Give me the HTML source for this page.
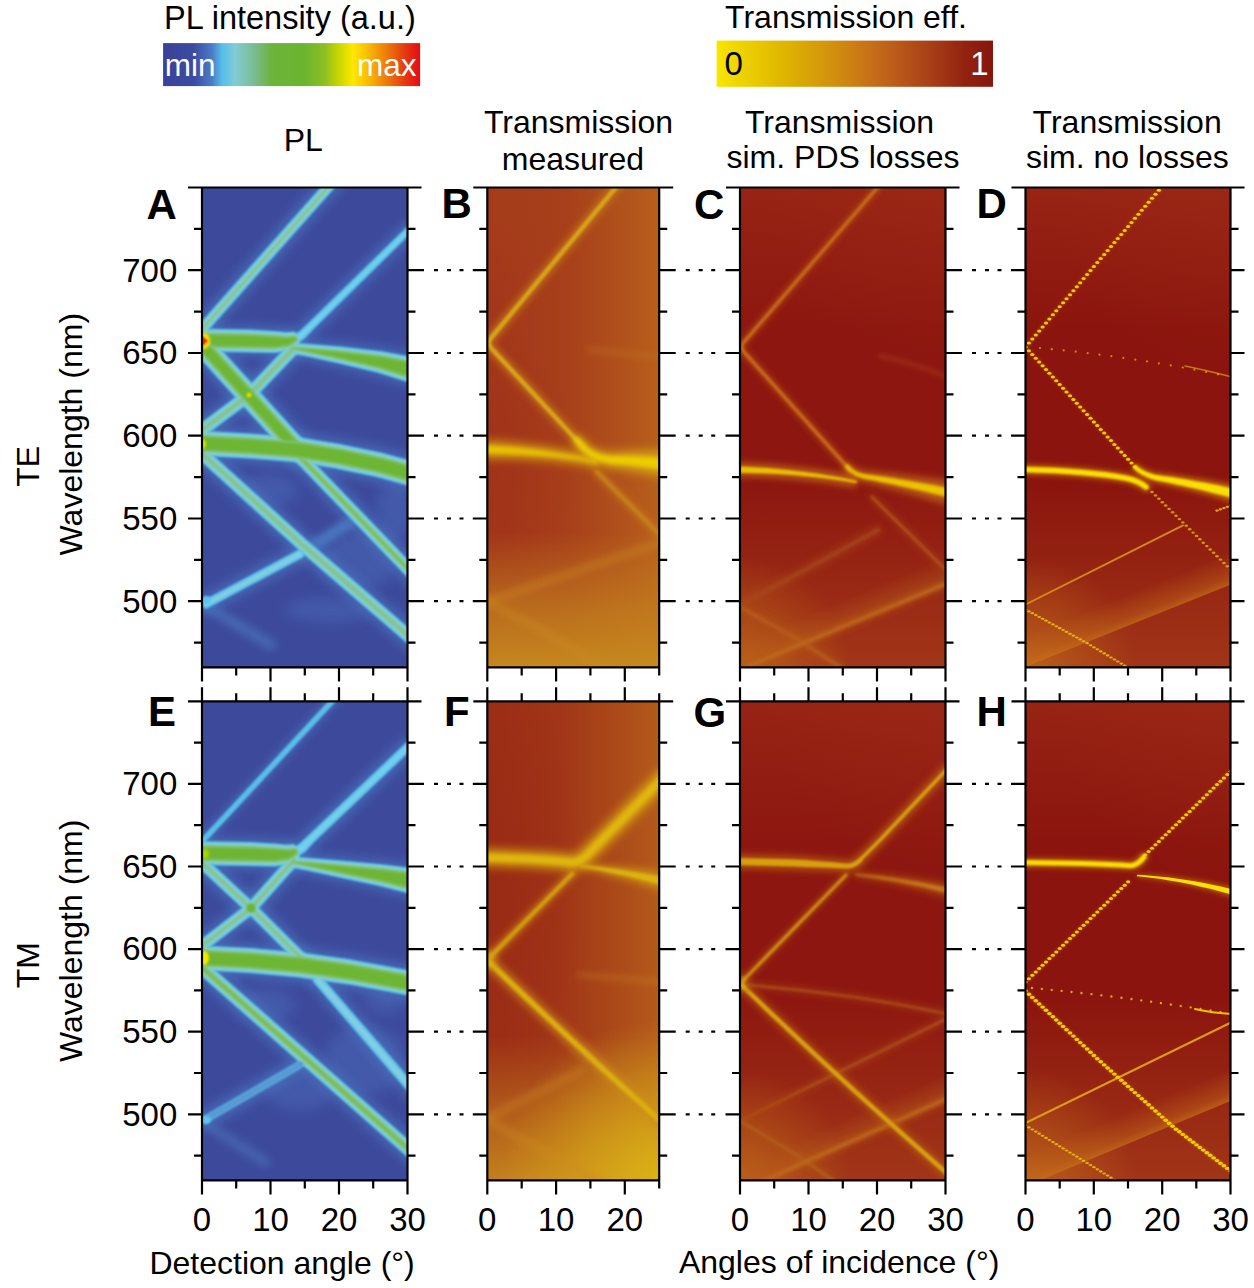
<!DOCTYPE html>
<html><head><meta charset="utf-8"><style>
html,body{margin:0;padding:0;background:#fff;}
body{width:1254px;height:1288px;overflow:hidden;}
svg{display:block;}
</style></head><body>
<svg width="1254" height="1288" viewBox="0 0 1254 1288" font-family='"Liberation Sans", sans-serif' fill="#000">
<defs>
<linearGradient id="cbPL" x1="0" x2="1" y1="0" y2="0"><stop offset="0" stop-color="#3b4097"/><stop offset="0.12" stop-color="#3d4ba3"/><stop offset="0.19" stop-color="#4a7cc6"/><stop offset="0.23" stop-color="#55bfeb"/><stop offset="0.28" stop-color="#82cbd6"/><stop offset="0.36" stop-color="#78bb8c"/><stop offset="0.42" stop-color="#6cb43c"/><stop offset="0.55" stop-color="#6ab42e"/><stop offset="0.63" stop-color="#8fbf22"/><stop offset="0.68" stop-color="#c6d500"/><stop offset="0.74" stop-color="#ffe800"/><stop offset="0.8" stop-color="#f9b800"/><stop offset="0.87" stop-color="#ee7a0a"/><stop offset="0.94" stop-color="#e53a12"/><stop offset="1" stop-color="#e30a16"/></linearGradient>
<linearGradient id="cbT" x1="0" x2="1" y1="0" y2="0"><stop offset="0" stop-color="#f8e600"/><stop offset="0.08" stop-color="#f0d400"/><stop offset="0.25" stop-color="#deb400"/><stop offset="0.42" stop-color="#d2900e"/><stop offset="0.58" stop-color="#c46a1a"/><stop offset="0.75" stop-color="#ac4418"/><stop offset="0.9" stop-color="#92220f"/><stop offset="1" stop-color="#86160e"/></linearGradient>
<clipPath id="clipA0"><rect x="202.0" y="187.5" width="205.5" height="479.9"/></clipPath>
<filter id="bl6" x="0" y="0" width="1254" height="1288" filterUnits="userSpaceOnUse"><feGaussianBlur stdDeviation="6"/></filter>
<filter id="bl3_5" x="0" y="0" width="1254" height="1288" filterUnits="userSpaceOnUse"><feGaussianBlur stdDeviation="3.5"/></filter>
<filter id="bl3" x="0" y="0" width="1254" height="1288" filterUnits="userSpaceOnUse"><feGaussianBlur stdDeviation="3"/></filter>
<filter id="bl4" x="0" y="0" width="1254" height="1288" filterUnits="userSpaceOnUse"><feGaussianBlur stdDeviation="4"/></filter>
<filter id="bl1_1" x="0" y="0" width="1254" height="1288" filterUnits="userSpaceOnUse"><feGaussianBlur stdDeviation="1.1"/></filter>
<filter id="bl1" x="0" y="0" width="1254" height="1288" filterUnits="userSpaceOnUse"><feGaussianBlur stdDeviation="1.0"/></filter>
<filter id="bl1_2" x="0" y="0" width="1254" height="1288" filterUnits="userSpaceOnUse"><feGaussianBlur stdDeviation="1.2"/></filter>
<filter id="bl1_5" x="0" y="0" width="1254" height="1288" filterUnits="userSpaceOnUse"><feGaussianBlur stdDeviation="1.5"/></filter>
<filter id="bl1_3" x="0" y="0" width="1254" height="1288" filterUnits="userSpaceOnUse"><feGaussianBlur stdDeviation="1.3"/></filter>
<filter id="bl1_6" x="0" y="0" width="1254" height="1288" filterUnits="userSpaceOnUse"><feGaussianBlur stdDeviation="1.6"/></filter>
<filter id="bl0_8" x="0" y="0" width="1254" height="1288" filterUnits="userSpaceOnUse"><feGaussianBlur stdDeviation="0.8"/></filter>
<clipPath id="clipB0"><rect x="487.3" y="187.5" width="171.90000000000003" height="479.9"/></clipPath>
<linearGradient id="gBh0" gradientUnits="userSpaceOnUse" x1="487.3" y1="0" x2="659.2" y2="0"><stop offset="0" stop-color="#b65c1c" stop-opacity="0"/><stop offset="0.45" stop-color="#b65c1c" stop-opacity="0.25"/><stop offset="1" stop-color="#ba641c" stop-opacity="0.9"/></linearGradient>
<linearGradient id="gBv0" gradientUnits="userSpaceOnUse" x1="0" y1="187.5" x2="0" y2="667.4"><stop offset="0" stop-color="#c4821e" stop-opacity="0"/><stop offset="0.72" stop-color="#c4821e" stop-opacity="0.0"/><stop offset="0.88" stop-color="#c4821e" stop-opacity="0.7"/><stop offset="1" stop-color="#c88c1e" stop-opacity="0.95"/></linearGradient>
<radialGradient id="gBd0" gradientUnits="userSpaceOnUse" cx="487.3" cy="470" r="90" gradientTransform="translate(487.3 470) scale(1 1.6) translate(-487.3 -470)"><stop offset="0" stop-color="#a03018" stop-opacity="0.6"/><stop offset="1" stop-color="#a03018" stop-opacity="0"/></radialGradient>
<radialGradient id="gBc0" gradientUnits="userSpaceOnUse" cx="497.3" cy="207.5" r="90"><stop offset="0" stop-color="#a8401a" stop-opacity="0.6"/><stop offset="1" stop-color="#a8401a" stop-opacity="0"/></radialGradient>
<filter id="bl2" x="0" y="0" width="1254" height="1288" filterUnits="userSpaceOnUse"><feGaussianBlur stdDeviation="2"/></filter>
<filter id="bl4_2" x="0" y="0" width="1254" height="1288" filterUnits="userSpaceOnUse"><feGaussianBlur stdDeviation="4.2"/></filter>
<clipPath id="clipC0"><rect x="740.0" y="187.5" width="205.5" height="479.9"/></clipPath>
<linearGradient id="gCt0" gradientUnits="userSpaceOnUse" x1="0" y1="187.5" x2="0" y2="667.4"><stop offset="0" stop-color="#982414" stop-opacity="1"/><stop offset="0.1" stop-color="#982414" stop-opacity="0.6"/><stop offset="0.3" stop-color="#982414" stop-opacity="0"/><stop offset="1" stop-color="#982414" stop-opacity="0"/></linearGradient>
<radialGradient id="gCr0" gradientUnits="userSpaceOnUse" cx="945.5" cy="187.5" r="180"><stop offset="0" stop-color="#a03018" stop-opacity="0.3"/><stop offset="1" stop-color="#a03018" stop-opacity="0"/></radialGradient>
<linearGradient id="gCb0" gradientUnits="userSpaceOnUse" x1="0" y1="187.5" x2="0" y2="667.4"><stop offset="0" stop-color="#a8401a" stop-opacity="0"/><stop offset="0.62" stop-color="#a8401a" stop-opacity="0"/><stop offset="1" stop-color="#a8401a" stop-opacity="0.75"/></linearGradient>
<radialGradient id="gCl0" gradientUnits="userSpaceOnUse" cx="740.0" cy="667.4" r="110"><stop offset="0" stop-color="#c06a1a" stop-opacity="0.8"/><stop offset="1" stop-color="#c06a1a" stop-opacity="0"/></radialGradient>
<linearGradient id="egC" gradientUnits="userSpaceOnUse" x1="841.0" y1="628.0" x2="831.0461131090552" y2="603.9808381544593"><stop offset="0" stop-color="#b8601a" stop-opacity="0.7"/><stop offset="0.25" stop-color="#b8601a" stop-opacity="0.385"/><stop offset="1" stop-color="#b8601a" stop-opacity="0"/></linearGradient>
<filter id="bl2_8" x="0" y="0" width="1254" height="1288" filterUnits="userSpaceOnUse"><feGaussianBlur stdDeviation="2.8"/></filter>
<filter id="bl3_2" x="0" y="0" width="1254" height="1288" filterUnits="userSpaceOnUse"><feGaussianBlur stdDeviation="3.2"/></filter>
<filter id="bl3_8" x="0" y="0" width="1254" height="1288" filterUnits="userSpaceOnUse"><feGaussianBlur stdDeviation="3.8"/></filter>
<filter id="bl1_4" x="0" y="0" width="1254" height="1288" filterUnits="userSpaceOnUse"><feGaussianBlur stdDeviation="1.4"/></filter>
<clipPath id="clipD0"><rect x="1025.5" y="187.5" width="205.0" height="479.9"/></clipPath>
<linearGradient id="gDt0" gradientUnits="userSpaceOnUse" x1="0" y1="187.5" x2="0" y2="667.4"><stop offset="0" stop-color="#982414" stop-opacity="1"/><stop offset="0.1" stop-color="#982414" stop-opacity="0.6"/><stop offset="0.3" stop-color="#982414" stop-opacity="0"/><stop offset="1" stop-color="#982414" stop-opacity="0"/></linearGradient>
<radialGradient id="gDr0" gradientUnits="userSpaceOnUse" cx="1230.5" cy="187.5" r="180"><stop offset="0" stop-color="#a03018" stop-opacity="0.3"/><stop offset="1" stop-color="#a03018" stop-opacity="0"/></radialGradient>
<linearGradient id="gDb0" gradientUnits="userSpaceOnUse" x1="0" y1="187.5" x2="0" y2="667.4"><stop offset="0" stop-color="#a8401a" stop-opacity="0"/><stop offset="0.62" stop-color="#a8401a" stop-opacity="0"/><stop offset="1" stop-color="#a8401a" stop-opacity="0.75"/></linearGradient>
<radialGradient id="gDl0" gradientUnits="userSpaceOnUse" cx="1025.5" cy="667.4" r="110"><stop offset="0" stop-color="#c06a1a" stop-opacity="0.8"/><stop offset="1" stop-color="#c06a1a" stop-opacity="0"/></radialGradient>
<linearGradient id="egD" gradientUnits="userSpaceOnUse" x1="1120.0" y1="629.0" x2="1108.8582797093768" y2="601.1456992734422"><stop offset="0" stop-color="#c87018" stop-opacity="0.7"/><stop offset="0.25" stop-color="#c87018" stop-opacity="0.385"/><stop offset="1" stop-color="#c87018" stop-opacity="0"/></linearGradient>
<filter id="bl0_5" x="0" y="0" width="1254" height="1288" filterUnits="userSpaceOnUse"><feGaussianBlur stdDeviation="0.5"/></filter>
<filter id="bl0_45" x="0" y="0" width="1254" height="1288" filterUnits="userSpaceOnUse"><feGaussianBlur stdDeviation="0.45"/></filter>
<filter id="bl0_35" x="0" y="0" width="1254" height="1288" filterUnits="userSpaceOnUse"><feGaussianBlur stdDeviation="0.35"/></filter>
<filter id="bl2_5" x="0" y="0" width="1254" height="1288" filterUnits="userSpaceOnUse"><feGaussianBlur stdDeviation="2.5"/></filter>
<filter id="bl0_9" x="0" y="0" width="1254" height="1288" filterUnits="userSpaceOnUse"><feGaussianBlur stdDeviation="0.9"/></filter>
<clipPath id="clipA1"><rect x="202.0" y="701.3" width="205.5" height="479.10000000000014"/></clipPath>
<clipPath id="clipB1"><rect x="487.3" y="701.3" width="171.90000000000003" height="479.10000000000014"/></clipPath>
<linearGradient id="gBh1" gradientUnits="userSpaceOnUse" x1="487.3" y1="0" x2="659.2" y2="0"><stop offset="0" stop-color="#b65c1c" stop-opacity="0"/><stop offset="0.4" stop-color="#b65c1c" stop-opacity="0.15"/><stop offset="1" stop-color="#b8621c" stop-opacity="0.85"/></linearGradient>
<linearGradient id="gBv1" gradientUnits="userSpaceOnUse" x1="0" y1="701.3" x2="0" y2="1180.4"><stop offset="0" stop-color="#c4821e" stop-opacity="0"/><stop offset="0.7" stop-color="#c4821e" stop-opacity="0.0"/><stop offset="0.88" stop-color="#c4821e" stop-opacity="0.6"/><stop offset="1" stop-color="#c88a1e" stop-opacity="0.9"/></linearGradient>
<radialGradient id="gBd1" gradientUnits="userSpaceOnUse" cx="487.3" cy="880" r="100" gradientTransform="translate(487.3 880) scale(1 2.2) translate(-487.3 -880)"><stop offset="0" stop-color="#982814" stop-opacity="0.7"/><stop offset="1" stop-color="#982814" stop-opacity="0"/></radialGradient>
<radialGradient id="gBc1" gradientUnits="userSpaceOnUse" cx="659.2" cy="1180.4" r="160"><stop offset="0" stop-color="#dcb414" stop-opacity="0.95"/><stop offset="1" stop-color="#dcb414" stop-opacity="0"/></radialGradient>
<filter id="bl1_8" x="0" y="0" width="1254" height="1288" filterUnits="userSpaceOnUse"><feGaussianBlur stdDeviation="1.8"/></filter>
<filter id="bl2_2" x="0" y="0" width="1254" height="1288" filterUnits="userSpaceOnUse"><feGaussianBlur stdDeviation="2.2"/></filter>
<clipPath id="clipC1"><rect x="740.0" y="701.3" width="205.5" height="479.10000000000014"/></clipPath>
<linearGradient id="gCt1" gradientUnits="userSpaceOnUse" x1="0" y1="701.3" x2="0" y2="1180.4"><stop offset="0" stop-color="#982414" stop-opacity="1"/><stop offset="0.1" stop-color="#982414" stop-opacity="0.6"/><stop offset="0.3" stop-color="#982414" stop-opacity="0"/><stop offset="1" stop-color="#982414" stop-opacity="0"/></linearGradient>
<radialGradient id="gCr1" gradientUnits="userSpaceOnUse" cx="945.5" cy="701.3" r="180"><stop offset="0" stop-color="#a03018" stop-opacity="0.3"/><stop offset="1" stop-color="#a03018" stop-opacity="0"/></radialGradient>
<linearGradient id="gCb1" gradientUnits="userSpaceOnUse" x1="0" y1="701.3" x2="0" y2="1180.4"><stop offset="0" stop-color="#a8401a" stop-opacity="0"/><stop offset="0.62" stop-color="#a8401a" stop-opacity="0"/><stop offset="1" stop-color="#a8401a" stop-opacity="0.75"/></linearGradient>
<radialGradient id="gCl1" gradientUnits="userSpaceOnUse" cx="740.0" cy="1180.4" r="110"><stop offset="0" stop-color="#c06a1a" stop-opacity="0.8"/><stop offset="1" stop-color="#c06a1a" stop-opacity="0"/></radialGradient>
<linearGradient id="egG" gradientUnits="userSpaceOnUse" x1="850.0" y1="1142.5" x2="840.2227793453311" y2="1120.581835015907"><stop offset="0" stop-color="#b8601a" stop-opacity="0.65"/><stop offset="0.25" stop-color="#b8601a" stop-opacity="0.35750000000000004"/><stop offset="1" stop-color="#b8601a" stop-opacity="0"/></linearGradient>
<clipPath id="clipD1"><rect x="1025.5" y="701.3" width="205.0" height="479.10000000000014"/></clipPath>
<linearGradient id="gDt1" gradientUnits="userSpaceOnUse" x1="0" y1="701.3" x2="0" y2="1180.4"><stop offset="0" stop-color="#982414" stop-opacity="1"/><stop offset="0.1" stop-color="#982414" stop-opacity="0.6"/><stop offset="0.3" stop-color="#982414" stop-opacity="0"/><stop offset="1" stop-color="#982414" stop-opacity="0"/></linearGradient>
<radialGradient id="gDr1" gradientUnits="userSpaceOnUse" cx="1230.5" cy="701.3" r="180"><stop offset="0" stop-color="#a03018" stop-opacity="0.3"/><stop offset="1" stop-color="#a03018" stop-opacity="0"/></radialGradient>
<linearGradient id="gDb1" gradientUnits="userSpaceOnUse" x1="0" y1="701.3" x2="0" y2="1180.4"><stop offset="0" stop-color="#a8401a" stop-opacity="0"/><stop offset="0.62" stop-color="#a8401a" stop-opacity="0"/><stop offset="1" stop-color="#a8401a" stop-opacity="0.75"/></linearGradient>
<radialGradient id="gDl1" gradientUnits="userSpaceOnUse" cx="1025.5" cy="1180.4" r="110"><stop offset="0" stop-color="#c06a1a" stop-opacity="0.8"/><stop offset="1" stop-color="#c06a1a" stop-opacity="0"/></radialGradient>
<linearGradient id="egH" gradientUnits="userSpaceOnUse" x1="1120.0" y1="1147.0" x2="1108.4615384615386" y2="1119.3076923076924"><stop offset="0" stop-color="#c87018" stop-opacity="0.7"/><stop offset="0.25" stop-color="#c87018" stop-opacity="0.385"/><stop offset="1" stop-color="#c87018" stop-opacity="0"/></linearGradient>
<filter id="bl0_7" x="0" y="0" width="1254" height="1288" filterUnits="userSpaceOnUse"><feGaussianBlur stdDeviation="0.7"/></filter>
</defs>
<g clip-path="url(#clipA0)"><rect x="202.0" y="187.5" width="205.5" height="479.9" fill="#3d4a9c"/><g fill="#4864b4" fill-opacity="0.55" filter="url(#bl6)"><ellipse cx="360" cy="560" rx="40" ry="28"/><ellipse cx="395" cy="510" rx="18" ry="30"/><ellipse cx="270" cy="490" rx="28" ry="16"/><ellipse cx="330" cy="610" rx="45" ry="12"/></g><path d="M206,606 L271,645" fill="none" stroke="#4a78c0" stroke-width="11" stroke-linecap="round" stroke-linejoin="round" stroke-opacity="0.6" filter="url(#bl3_5)"/><path d="M300,554 L357,518" fill="none" stroke="#4a80c6" stroke-width="12" stroke-linecap="round" stroke-linejoin="round" stroke-opacity="0.8" filter="url(#bl3)"/><path d="M206,604 L300,554" fill="none" stroke="#4a70bc" stroke-width="21" stroke-linecap="round" stroke-linejoin="round" stroke-opacity="0.6" filter="url(#bl4)"/><path d="M196,336 L338,176" fill="none" stroke="#4a70bc" stroke-width="23" stroke-linecap="round" stroke-linejoin="round" stroke-opacity="0.6" filter="url(#bl4)"/><path d="M198,450 L305,547 L412,639" fill="none" stroke="#4a70bc" stroke-width="25" stroke-linecap="round" stroke-linejoin="round" stroke-opacity="0.6" filter="url(#bl4)"/><path d="M300,457 L412,573" fill="none" stroke="#4a70bc" stroke-width="25" stroke-linecap="round" stroke-linejoin="round" stroke-opacity="0.6" filter="url(#bl4)"/><path d="M198,433 L249,395 L292,350" fill="none" stroke="#4a70bc" stroke-width="25" stroke-linecap="round" stroke-linejoin="round" stroke-opacity="0.6" filter="url(#bl4)"/><path d="M281.0,354.0 L295.5,352.0 L308.6,343.2 L319.0,332.1 L418.8,234.0 L405.2,220.0 L305.0,317.9 L295.4,326.8 L288.5,330.0 L279.0,330.0Z" fill="#4a70bc" fill-opacity="0.6" filter="url(#bl4)"/><path d="M195.7,356.5 L249.6,357.5 L274.8,358.0 L290.6,355.8 L301.3,349.2 L292.7,326.8 L285.4,327.2 L275.2,326.0 L250.4,324.5 L196.3,323.5Z" fill="#4a70bc" fill-opacity="0.6" filter="url(#bl4)"/><path d="M290.6,358.4 L308.3,362.0 L337.8,368.3 L376.7,377.6 L407.6,387.5 L416.4,352.5 L383.3,346.4 L342.2,341.7 L311.7,339.0 L293.4,337.6Z" fill="#4a70bc" fill-opacity="0.6" filter="url(#bl4)"/><path d="M196,338 L248,395 L296,448" fill="none" stroke="#4a70bc" stroke-width="34" stroke-linecap="round" stroke-linejoin="round" stroke-opacity="0.6" filter="url(#bl4)"/><path d="M196,443 L250,446 L300,450 L340,456.7 L380,465 L412,474" fill="none" stroke="#4a70bc" stroke-width="37" stroke-linecap="round" stroke-linejoin="round" stroke-opacity="0.6" filter="url(#bl4)"/><path d="M206,604 L300,554" fill="none" stroke="#5cc6ee" stroke-width="9" stroke-linecap="round" stroke-linejoin="round" filter="url(#bl1_1)"/><path d="M196,336 L338,176" fill="none" stroke="#5cc6ee" stroke-width="11" stroke-linecap="round" stroke-linejoin="round" filter="url(#bl1_1)"/><path d="M198,450 L305,547 L412,639" fill="none" stroke="#5cc6ee" stroke-width="13" stroke-linecap="round" stroke-linejoin="round" filter="url(#bl1_1)"/><path d="M300,457 L412,573" fill="none" stroke="#5cc6ee" stroke-width="13" stroke-linecap="round" stroke-linejoin="round" filter="url(#bl1_1)"/><path d="M198,433 L249,395 L292,350" fill="none" stroke="#5cc6ee" stroke-width="13" stroke-linecap="round" stroke-linejoin="round" filter="url(#bl1_1)"/><path d="M280.5,348.0 L293.7,346.2 L304.8,338.5 L314.8,327.9 L414.6,229.7 L409.4,224.3 L309.2,322.1 L299.2,331.5 L290.3,335.8 L279.5,336.0Z" fill="#5cc6ee" filter="url(#bl1_1)"/><path d="M195.8,351.5 L249.7,352.5 L274.9,353.0 L289.7,350.8 L299.5,344.5 L294.5,331.5 L286.3,332.2 L275.1,331.0 L250.3,329.5 L196.2,328.5Z" fill="#5cc6ee" filter="url(#bl1_1)"/><path d="M291.2,353.4 L309.0,357.0 L338.6,363.4 L377.8,372.7 L408.8,382.6 L415.2,357.4 L382.2,351.3 L341.4,346.6 L311.0,344.0 L292.8,342.6Z" fill="#5cc6ee" filter="url(#bl1_1)"/><path d="M196,338 L248,395 L296,448" fill="none" stroke="#5cc6ee" stroke-width="22" stroke-linecap="round" stroke-linejoin="round" filter="url(#bl1_1)"/><path d="M196,443 L250,446 L300,450 L340,456.7 L380,465 L412,474" fill="none" stroke="#5cc6ee" stroke-width="25" stroke-linecap="round" stroke-linejoin="round" filter="url(#bl1_1)"/><path d="M206,604 L300,554" fill="none" stroke="#86cde0" stroke-width="4" stroke-linecap="round" stroke-linejoin="round" filter="url(#bl1)"/><path d="M196,336 L338,176" fill="none" stroke="#8dcfc6" stroke-width="7" stroke-linecap="round" stroke-linejoin="round" filter="url(#bl1)"/><path d="M198,450 L305,547 L412,639" fill="none" stroke="#8dcfc6" stroke-width="9" stroke-linecap="round" stroke-linejoin="round" filter="url(#bl1)"/><path d="M300,457 L412,573" fill="none" stroke="#8dcfc6" stroke-width="9" stroke-linecap="round" stroke-linejoin="round" filter="url(#bl1_1)"/><path d="M198,433 L249,395 L292,350" fill="none" stroke="#8dcfc6" stroke-width="9" stroke-linecap="round" stroke-linejoin="round" filter="url(#bl1)"/><path d="M280.3,345.5 L292.9,343.9 L303.2,336.6 L313.1,326.1 L412.9,227.9 L411.1,226.1 L310.9,323.9 L300.8,333.4 L291.1,338.1 L279.7,338.5Z" fill="#78d0ea" filter="url(#bl1_1)"/><path d="M195.8,349.5 L249.8,350.5 L274.9,351.0 L289.3,348.9 L298.8,342.7 L295.2,333.3 L286.7,334.1 L275.1,333.0 L250.2,331.5 L196.2,330.5Z" fill="#8dcfc6" filter="url(#bl1_2)"/><path d="M291.5,351.5 L309.3,355.1 L338.9,361.4 L378.2,370.8 L409.3,380.7 L414.7,359.3 L381.8,353.2 L341.1,348.6 L310.7,345.9 L292.5,344.5Z" fill="#8dcfc6" filter="url(#bl1_2)"/><path d="M196,338 L248,395 L296,448" fill="none" stroke="#8dcfc6" stroke-width="18" stroke-linecap="round" stroke-linejoin="round" filter="url(#bl1_2)"/><path d="M196,443 L250,446 L300,450 L340,456.7 L380,465 L412,474" fill="none" stroke="#8dcfc6" stroke-width="21" stroke-linecap="round" stroke-linejoin="round" filter="url(#bl1_2)"/><path d="M196,336 L338,176" fill="none" stroke="#80c49a" stroke-width="3" stroke-linecap="round" stroke-linejoin="round" filter="url(#bl1_2)"/><path d="M198,450 L305,547 L412,639" fill="none" stroke="#80c49a" stroke-width="5" stroke-linecap="round" stroke-linejoin="round" filter="url(#bl1_2)"/><path d="M300,457 L412,573" fill="none" stroke="#78bc56" stroke-width="4" stroke-linecap="round" stroke-linejoin="round" filter="url(#bl1_5)"/><path d="M198,433 L249,395 L292,350" fill="none" stroke="#80c49a" stroke-width="5" stroke-linecap="round" stroke-linejoin="round" filter="url(#bl1_2)"/><path d="M195.9,347.5 L249.8,348.5 L274.9,349.0 L289.0,346.9 L298.1,340.8 L295.9,335.2 L287.0,336.1 L275.1,335.0 L250.2,333.5 L196.1,332.5Z" fill="#80c488" filter="url(#bl1_3)"/><path d="M195.9,345.5 L249.9,346.5 L274.9,347.0 L288.6,344.9 L297.4,338.9 L296.6,337.1 L287.4,338.1 L275.1,337.0 L250.1,335.5 L196.1,334.5Z" fill="#6db532" filter="url(#bl1_6)"/><path d="M291.8,349.5 L309.6,353.1 L339.3,359.4 L378.6,368.8 L409.8,378.7 L414.2,361.3 L381.4,355.2 L340.7,350.6 L310.4,347.9 L292.2,346.5Z" fill="#80c488" filter="url(#bl1_3)"/><path d="M292.0,348.2 L309.8,351.7 L339.5,357.8 L378.9,367.0 L410.3,376.8 L413.7,363.2 L381.1,357.0 L340.5,352.2 L310.2,349.3 L292.0,347.8Z" fill="#6db532" filter="url(#bl1_6)"/><path d="M196,338 L248,395 L296,448" fill="none" stroke="#80c488" stroke-width="14" stroke-linecap="round" stroke-linejoin="round" filter="url(#bl1_3)"/><path d="M196,338 L248,395 L296,448" fill="none" stroke="#6db532" stroke-width="10" stroke-linecap="round" stroke-linejoin="round" filter="url(#bl1_6)"/><path d="M196,443 L250,446 L300,450 L340,456.7 L380,465 L412,474" fill="none" stroke="#80c488" stroke-width="17" stroke-linecap="round" stroke-linejoin="round" filter="url(#bl1_3)"/><path d="M196,443 L250,446 L300,450 L340,456.7 L380,465 L412,474" fill="none" stroke="#6db532" stroke-width="13" stroke-linecap="round" stroke-linejoin="round" filter="url(#bl1_6)"/><ellipse cx="204" cy="341" rx="6" ry="8" fill="#ffe400" filter="url(#bl1_5)"/><path d="M201,335 L208,341 L201,347Z" fill="#e41a1c" filter="url(#bl0_8)"/><circle cx="249" cy="395" r="2.5" fill="#e0e000" filter="url(#bl0_8)"/><ellipse cx="203" cy="444" rx="3" ry="5" fill="#d8e000" filter="url(#bl1)"/><ellipse cx="206" cy="600" rx="5" ry="4" fill="#5cc6ee" filter="url(#bl1_2)"/></g>
<g clip-path="url(#clipB0)"><rect x="487.3" y="187.5" width="171.90000000000003" height="479.9" fill="#a2361a"/><rect x="487.3" y="187.5" width="171.90000000000003" height="479.9" fill="url(#gBh0)"/><rect x="487.3" y="187.5" width="171.90000000000003" height="479.9" fill="url(#gBd0)"/><rect x="487.3" y="187.5" width="171.90000000000003" height="479.9" fill="url(#gBv0)"/><rect x="487.3" y="187.5" width="171.90000000000003" height="479.9" fill="url(#gBc0)"/><path d="M487,602 L662,542" fill="none" stroke="#cc8a22" stroke-width="8" stroke-linecap="round" stroke-linejoin="round" stroke-opacity="0.45" filter="url(#bl3_5)"/><path d="M487,602 L545,632 L610,670" fill="none" stroke="#cc8a22" stroke-width="8" stroke-linecap="round" stroke-linejoin="round" stroke-opacity="0.45" filter="url(#bl3_5)"/><path d="M590,350 L662,357" fill="none" stroke="#c07020" stroke-width="6" stroke-linecap="round" stroke-linejoin="round" stroke-opacity="0.4" filter="url(#bl3)"/><path d="M597,472 L662,537" fill="none" stroke="#c8801a" stroke-width="10" stroke-linecap="round" stroke-linejoin="round" stroke-opacity="0.45" filter="url(#bl3)"/><path d="M597,472 L662,537" fill="none" stroke="#c8801c" stroke-width="4" stroke-linecap="round" stroke-linejoin="round" filter="url(#bl1_5)"/><path d="M483.7,459.5 L493.7,459.5 L503.6,459.6 L513.4,459.8 L523.1,460.1 L532.7,460.6 L542.1,461.3 L551.5,462.0 L560.8,462.9 L569.9,464.0 L579.0,465.1 L587.9,466.4 L596.8,467.9 L599.2,456.1 L590.3,454.0 L581.2,452.1 L572.1,450.2 L562.8,448.5 L553.4,446.9 L543.9,445.5 L534.2,444.2 L524.5,443.0 L514.6,441.9 L504.6,441.0 L494.5,440.2 L484.3,439.5Z" fill="#d8a814" fill-opacity="0.7" filter="url(#bl4)"/><path d="M483.9,453.7 L494.0,453.8 L503.9,454.0 L513.8,454.4 L523.5,454.8 L533.2,455.4 L542.7,456.2 L552.1,457.1 L561.4,458.1 L570.7,459.2 L579.8,460.5 L588.8,461.9 L597.7,463.5 L598.3,460.5 L589.4,458.5 L580.4,456.7 L571.3,455.0 L562.1,453.4 L552.8,451.9 L543.3,450.6 L533.7,449.3 L524.0,448.3 L514.2,447.3 L504.3,446.5 L494.3,445.8 L484.1,445.3Z" fill="#e8c400" filter="url(#bl2)"/><path d="M622,180 L491,338 Q487,343 491,348 L584,448" fill="none" stroke="#c8801a" stroke-width="11" stroke-linecap="round" stroke-linejoin="round" stroke-opacity="0.6" filter="url(#bl3)"/><path d="M622,180 L491,338 Q487,343 491,348 L584,448" fill="none" stroke="#d8a414" stroke-width="4.5" stroke-linecap="round" stroke-linejoin="round" filter="url(#bl1_3)"/><path d="M571.3,441.3 L579.4,452.2 L581.5,454.5 L583.5,456.4 L585.7,458.3 L588.0,460.0 L590.4,461.5 L593.0,463.0 L595.7,464.3 L598.5,465.5 L601.5,466.6 L604.5,467.5 L607.7,468.4 L611.3,469.1 L616.2,469.7 L620.7,470.4 L625.2,471.0 L629.5,471.7 L633.9,472.4 L638.1,473.1 L642.3,473.9 L646.4,474.6 L650.5,475.4 L654.5,476.2 L658.4,477.0 L662.3,477.9 L665.7,450.1 L661.5,450.0 L657.3,449.9 L653.0,449.8 L648.7,449.8 L644.3,449.8 L639.9,449.9 L635.4,450.0 L630.9,450.1 L626.3,450.2 L621.7,450.4 L617.0,450.6 L612.7,450.9 L610.4,450.8 L607.9,450.7 L605.5,450.4 L603.2,450.0 L601.1,449.6 L599.0,449.0 L597.0,448.4 L595.1,447.6 L593.3,446.7 L591.6,445.8 L590.0,444.7 L588.6,443.8 L578.7,434.7Z" fill="#dcae12" fill-opacity="0.7" filter="url(#bl4_2)"/><path d="M573.3,439.5 L582.0,449.9 L583.8,451.8 L585.8,453.5 L587.8,455.0 L590.0,456.5 L592.3,457.8 L594.7,459.1 L597.2,460.2 L599.9,461.2 L602.6,462.0 L605.5,462.8 L608.5,463.4 L611.7,464.0 L616.5,464.3 L621.0,464.7 L625.5,465.1 L629.9,465.6 L634.3,466.0 L638.6,466.5 L642.9,467.0 L647.1,467.6 L651.2,468.1 L655.3,468.7 L659.3,469.3 L663.3,470.0 L664.7,458.0 L660.6,457.7 L656.5,457.4 L652.3,457.1 L648.0,456.9 L643.7,456.7 L639.4,456.5 L635.0,456.3 L630.5,456.2 L626.0,456.1 L621.4,456.1 L616.8,456.0 L612.3,456.0 L609.6,455.8 L607.0,455.4 L604.4,455.0 L601.9,454.4 L599.6,453.7 L597.3,452.9 L595.2,452.0 L593.1,451.1 L591.2,450.0 L589.4,448.8 L587.6,447.5 L586.0,446.1 L576.7,436.5Z" fill="#ecce00" filter="url(#bl2)"/></g>
<g clip-path="url(#clipC0)"><rect x="740.0" y="187.5" width="205.5" height="479.9" fill="#8d1710"/><rect x="740.0" y="187.5" width="205.5" height="479.9" fill="url(#gCt0)"/><rect x="740.0" y="187.5" width="205.5" height="479.9" fill="url(#gCr0)"/><rect x="740.0" y="187.5" width="205.5" height="479.9" fill="url(#gCb0)"/><rect x="740.0" y="187.5" width="205.5" height="479.9" fill="url(#gCl0)"/><path d="M880,356 Q910,362 948,377" fill="none" stroke="#a83c18" stroke-width="5" stroke-linecap="round" stroke-linejoin="round" stroke-opacity="0.45" filter="url(#bl2)"/><path d="M740,607 L797,639 L840,667" fill="none" stroke="#b05018" stroke-width="10" stroke-linecap="round" stroke-linejoin="round" stroke-opacity="0.5" filter="url(#bl3_5)"/><path d="M740,607 L797,639 L840,667" fill="none" stroke="#b85a1a" stroke-width="3.5" stroke-linecap="round" stroke-linejoin="round" filter="url(#bl1_6)"/><path d="M744,603 L878,530" fill="none" stroke="#a84418" stroke-width="10" stroke-linecap="round" stroke-linejoin="round" stroke-opacity="0.45" filter="url(#bl3_5)"/><path d="M744,603 L878,530" fill="none" stroke="#a84418" stroke-width="3.5" stroke-linecap="round" stroke-linejoin="round" stroke-opacity="0.85" filter="url(#bl1_6)"/><path d="M730.0,674.0 L952.0,582.0 L942.0,558.0 L720.0,650.0Z" fill="url(#egC)"/><path d="M730,674 L952,582" fill="none" stroke="#b85a1a" stroke-width="8" stroke-linecap="round" stroke-linejoin="round" stroke-opacity="0.5" filter="url(#bl3)"/><path d="M730,674 L952,582" fill="none" stroke="#c06a1a" stroke-width="3.5" stroke-linecap="round" stroke-linejoin="round" stroke-opacity="0.8" filter="url(#bl1_6)"/><path d="M872,497 L948,572" fill="none" stroke="#a84418" stroke-width="8" stroke-linecap="round" stroke-linejoin="round" stroke-opacity="0.5" filter="url(#bl3)"/><path d="M872,497 L948,572" fill="none" stroke="#b04c18" stroke-width="3" stroke-linecap="round" stroke-linejoin="round" filter="url(#bl1_2)"/><path d="M884,180 L744,342 Q740,347 744,352 L850,470" fill="none" stroke="#b04a18" stroke-width="9" stroke-linecap="round" stroke-linejoin="round" stroke-opacity="0.55" filter="url(#bl2_8)"/><path d="M884,180 L744,342 Q740,347 744,352 L850,470" fill="none" stroke="#c86818" stroke-width="3.5" stroke-linecap="round" stroke-linejoin="round" filter="url(#bl1)"/><path d="M735.8,476.5 L746.4,476.7 L756.8,477.1 L767.1,477.6 L777.4,478.2 L787.5,478.9 L797.6,479.8 L807.5,480.8 L817.4,482.0 L827.2,483.3 L836.8,484.7 L846.4,486.2 L855.9,487.9 L858.1,476.1 L848.5,474.2 L838.8,472.5 L829.0,470.9 L819.0,469.5 L809.0,468.1 L798.9,466.9 L788.7,465.9 L778.4,464.9 L768.0,464.1 L757.5,463.4 L746.9,462.9 L736.2,462.5Z" fill="#c87018" fill-opacity="0.7" filter="url(#bl3_2)"/><path d="M735.9,472.7 L746.5,472.9 L757.0,473.2 L767.4,473.6 L777.7,474.1 L787.9,474.8 L798.0,475.6 L808.0,476.5 L818.0,477.6 L827.8,478.8 L837.6,480.1 L847.2,481.6 L856.8,483.2 L857.2,480.8 L847.7,478.8 L838.1,477.0 L828.3,475.4 L818.5,473.8 L808.5,472.4 L798.5,471.2 L788.3,470.0 L778.1,469.0 L767.7,468.1 L757.3,467.4 L746.7,466.7 L736.1,466.3Z" fill="#e8c000" filter="url(#bl1_3)"/><path d="M842.8,467.4 L844.0,469.2 L845.5,471.1 L847.0,472.8 L848.8,474.4 L850.7,475.9 L852.7,477.3 L854.8,478.5 L857.0,479.6 L859.4,480.6 L861.9,481.5 L864.5,482.2 L867.1,482.8 L873.2,484.3 L879.4,485.8 L885.7,487.4 L892.1,489.1 L898.7,490.8 L905.3,492.6 L912.1,494.5 L918.9,496.4 L925.9,498.4 L932.9,500.4 L940.1,502.5 L947.4,504.7 L952.6,481.3 L945.0,480.2 L937.5,479.1 L930.1,478.1 L922.9,477.2 L915.7,476.2 L908.7,475.4 L901.8,474.6 L895.0,473.8 L888.3,473.1 L881.7,472.4 L875.3,471.8 L868.9,471.2 L866.6,471.0 L864.5,470.7 L862.6,470.4 L860.7,469.9 L859.0,469.4 L857.3,468.7 L855.8,468.0 L854.3,467.1 L853.0,466.2 L851.7,465.1 L850.4,464.0 L849.2,462.6Z" fill="#cc7818" fill-opacity="0.65" filter="url(#bl3_8)"/><path d="M844.6,466.1 L845.8,467.8 L847.2,469.4 L848.7,470.9 L850.4,472.3 L852.1,473.6 L854.0,474.8 L856.0,475.9 L858.1,476.8 L860.3,477.7 L862.7,478.4 L865.1,479.0 L867.6,479.4 L873.8,480.6 L880.1,481.9 L886.5,483.2 L893.0,484.6 L899.6,486.0 L906.3,487.5 L913.2,489.0 L920.1,490.6 L927.2,492.3 L934.3,494.0 L941.6,495.8 L949.0,497.6 L951.0,488.4 L943.5,486.9 L936.1,485.5 L928.8,484.2 L921.7,482.9 L914.6,481.7 L907.7,480.5 L900.8,479.4 L894.1,478.3 L887.5,477.3 L881.0,476.3 L874.7,475.4 L868.4,474.6 L866.0,474.3 L863.8,473.9 L861.7,473.3 L859.7,472.7 L857.8,472.0 L856.0,471.2 L854.3,470.2 L852.7,469.2 L851.3,468.1 L849.9,466.8 L848.6,465.5 L847.4,463.9Z" fill="#ecc400" filter="url(#bl1_4)"/></g>
<g clip-path="url(#clipD0)"><rect x="1025.5" y="187.5" width="205.0" height="479.9" fill="#8b150e"/><rect x="1025.5" y="187.5" width="205.0" height="479.9" fill="url(#gDt0)"/><rect x="1025.5" y="187.5" width="205.0" height="479.9" fill="url(#gDr0)"/><rect x="1025.5" y="187.5" width="205.0" height="479.9" fill="url(#gDb0)"/><rect x="1025.5" y="187.5" width="205.0" height="479.9" fill="url(#gDl0)"/><path d="M1000.0,677.0 L1240.0,581.0 L1228.9,553.1 L988.9,649.1Z" fill="url(#egD)"/><path d="M1025.5,604.5 L1183,525.4" fill="none" stroke="#d88a14" stroke-width="1.8" stroke-linecap="round" stroke-linejoin="round" filter="url(#bl0_5)"/><g fill="#e8b010" fill-opacity="1" filter="url(#bl0_45)"><ellipse cx="1025.5" cy="609.5" rx="1.9" ry="1.1"/><ellipse cx="1028.9" cy="611.4" rx="1.9" ry="1.1"/><ellipse cx="1032.3" cy="613.2" rx="1.9" ry="1.1"/><ellipse cx="1035.8" cy="615.1" rx="1.9" ry="1.1"/><ellipse cx="1039.2" cy="617.0" rx="1.9" ry="1.1"/><ellipse cx="1042.6" cy="618.8" rx="1.9" ry="1.1"/><ellipse cx="1046.0" cy="620.7" rx="1.9" ry="1.1"/><ellipse cx="1049.4" cy="622.6" rx="1.9" ry="1.1"/><ellipse cx="1052.9" cy="624.4" rx="1.9" ry="1.1"/><ellipse cx="1056.3" cy="626.3" rx="1.9" ry="1.1"/><ellipse cx="1059.7" cy="628.2" rx="1.9" ry="1.1"/><ellipse cx="1063.1" cy="630.0" rx="1.9" ry="1.1"/><ellipse cx="1066.5" cy="631.9" rx="1.9" ry="1.1"/><ellipse cx="1070.0" cy="633.8" rx="1.9" ry="1.1"/><ellipse cx="1073.4" cy="635.7" rx="1.9" ry="1.1"/><ellipse cx="1076.8" cy="637.5" rx="1.9" ry="1.1"/><ellipse cx="1080.2" cy="639.4" rx="1.9" ry="1.1"/><ellipse cx="1083.6" cy="641.3" rx="1.9" ry="1.1"/><ellipse cx="1087.1" cy="643.2" rx="1.9" ry="1.1"/><ellipse cx="1090.5" cy="645.3" rx="1.9" ry="1.1"/><ellipse cx="1093.9" cy="647.3" rx="1.9" ry="1.1"/><ellipse cx="1097.3" cy="649.3" rx="1.9" ry="1.1"/><ellipse cx="1100.7" cy="651.4" rx="1.9" ry="1.1"/><ellipse cx="1104.2" cy="653.4" rx="1.9" ry="1.1"/><ellipse cx="1107.6" cy="655.4" rx="1.9" ry="1.1"/><ellipse cx="1111.0" cy="657.5" rx="1.9" ry="1.1"/><ellipse cx="1114.4" cy="659.5" rx="1.9" ry="1.1"/><ellipse cx="1117.8" cy="661.5" rx="1.9" ry="1.1"/><ellipse cx="1121.3" cy="663.6" rx="1.9" ry="1.1"/><ellipse cx="1124.7" cy="665.6" rx="1.9" ry="1.1"/></g><path d="M1040,348 Q1130,356 1232,377" fill="none" stroke="#e8b000" stroke-width="2.2" stroke-linecap="round" stroke-linejoin="round" stroke-opacity="0.75" stroke-dasharray="0.01 12" filter="url(#bl0_35)"/><path d="M1185,366 Q1205,370 1232,377" fill="none" stroke="#e0a010" stroke-width="1.6" stroke-linecap="round" stroke-linejoin="round" stroke-opacity="0.7" filter="url(#bl0_5)"/><g fill="#e8b010" fill-opacity="1" filter="url(#bl0_45)"><ellipse cx="1217.0" cy="510.6" rx="1.8" ry="1.1"/><ellipse cx="1220.4" cy="509.3" rx="1.8" ry="1.1"/><ellipse cx="1223.9" cy="508.1" rx="1.8" ry="1.1"/><ellipse cx="1227.3" cy="506.8" rx="1.8" ry="1.1"/><ellipse cx="1230.7" cy="505.5" rx="1.8" ry="1.1"/></g><g fill="#d89010" fill-opacity="0.45" filter="url(#bl1_5)"><ellipse cx="1025.5" cy="347.0" rx="2.1" ry="1.5"/><ellipse cx="1028.9" cy="343.0" rx="2.1" ry="1.5"/><ellipse cx="1032.3" cy="339.0" rx="2.1" ry="1.5"/><ellipse cx="1035.8" cy="334.9" rx="2.1" ry="1.5"/><ellipse cx="1039.2" cy="330.9" rx="2.1" ry="1.5"/><ellipse cx="1042.6" cy="326.9" rx="2.1" ry="1.5"/><ellipse cx="1046.0" cy="322.9" rx="2.1" ry="1.5"/><ellipse cx="1049.4" cy="318.9" rx="2.1" ry="1.5"/><ellipse cx="1052.9" cy="314.8" rx="2.1" ry="1.5"/><ellipse cx="1056.3" cy="310.8" rx="2.1" ry="1.5"/><ellipse cx="1059.7" cy="306.8" rx="2.1" ry="1.5"/><ellipse cx="1063.1" cy="302.8" rx="2.1" ry="1.5"/><ellipse cx="1066.5" cy="298.8" rx="2.1" ry="1.5"/><ellipse cx="1070.0" cy="294.7" rx="2.1" ry="1.5"/><ellipse cx="1073.4" cy="290.7" rx="2.1" ry="1.5"/><ellipse cx="1076.8" cy="286.7" rx="2.1" ry="1.5"/><ellipse cx="1080.2" cy="282.7" rx="2.1" ry="1.5"/><ellipse cx="1083.6" cy="278.6" rx="2.1" ry="1.5"/><ellipse cx="1087.1" cy="274.6" rx="2.1" ry="1.5"/><ellipse cx="1090.5" cy="270.6" rx="2.1" ry="1.5"/><ellipse cx="1093.9" cy="266.6" rx="2.1" ry="1.5"/><ellipse cx="1097.3" cy="262.6" rx="2.1" ry="1.5"/><ellipse cx="1100.7" cy="258.5" rx="2.1" ry="1.5"/><ellipse cx="1104.2" cy="254.5" rx="2.1" ry="1.5"/><ellipse cx="1107.6" cy="250.5" rx="2.1" ry="1.5"/><ellipse cx="1111.0" cy="246.5" rx="2.1" ry="1.5"/><ellipse cx="1114.4" cy="242.5" rx="2.1" ry="1.5"/><ellipse cx="1117.8" cy="238.4" rx="2.1" ry="1.5"/><ellipse cx="1121.3" cy="234.4" rx="2.1" ry="1.5"/><ellipse cx="1124.7" cy="230.4" rx="2.1" ry="1.5"/><ellipse cx="1128.1" cy="226.4" rx="2.1" ry="1.5"/><ellipse cx="1131.5" cy="222.4" rx="2.1" ry="1.5"/><ellipse cx="1134.9" cy="218.3" rx="2.1" ry="1.5"/><ellipse cx="1138.4" cy="214.3" rx="2.1" ry="1.5"/><ellipse cx="1141.8" cy="210.3" rx="2.1" ry="1.5"/><ellipse cx="1145.2" cy="206.3" rx="2.1" ry="1.5"/><ellipse cx="1148.6" cy="202.3" rx="2.1" ry="1.5"/><ellipse cx="1152.0" cy="198.2" rx="2.1" ry="1.5"/><ellipse cx="1155.5" cy="194.2" rx="2.1" ry="1.5"/><ellipse cx="1158.9" cy="190.2" rx="2.1" ry="1.5"/><ellipse cx="1162.3" cy="186.2" rx="2.1" ry="1.5"/></g><g fill="#f4cc00" fill-opacity="1" filter="url(#bl0_45)"><ellipse cx="1025.5" cy="347.0" rx="2.1" ry="1.5"/><ellipse cx="1028.9" cy="343.0" rx="2.1" ry="1.5"/><ellipse cx="1032.3" cy="339.0" rx="2.1" ry="1.5"/><ellipse cx="1035.8" cy="334.9" rx="2.1" ry="1.5"/><ellipse cx="1039.2" cy="330.9" rx="2.1" ry="1.5"/><ellipse cx="1042.6" cy="326.9" rx="2.1" ry="1.5"/><ellipse cx="1046.0" cy="322.9" rx="2.1" ry="1.5"/><ellipse cx="1049.4" cy="318.9" rx="2.1" ry="1.5"/><ellipse cx="1052.9" cy="314.8" rx="2.1" ry="1.5"/><ellipse cx="1056.3" cy="310.8" rx="2.1" ry="1.5"/><ellipse cx="1059.7" cy="306.8" rx="2.1" ry="1.5"/><ellipse cx="1063.1" cy="302.8" rx="2.1" ry="1.5"/><ellipse cx="1066.5" cy="298.8" rx="2.1" ry="1.5"/><ellipse cx="1070.0" cy="294.7" rx="2.1" ry="1.5"/><ellipse cx="1073.4" cy="290.7" rx="2.1" ry="1.5"/><ellipse cx="1076.8" cy="286.7" rx="2.1" ry="1.5"/><ellipse cx="1080.2" cy="282.7" rx="2.1" ry="1.5"/><ellipse cx="1083.6" cy="278.6" rx="2.1" ry="1.5"/><ellipse cx="1087.1" cy="274.6" rx="2.1" ry="1.5"/><ellipse cx="1090.5" cy="270.6" rx="2.1" ry="1.5"/><ellipse cx="1093.9" cy="266.6" rx="2.1" ry="1.5"/><ellipse cx="1097.3" cy="262.6" rx="2.1" ry="1.5"/><ellipse cx="1100.7" cy="258.5" rx="2.1" ry="1.5"/><ellipse cx="1104.2" cy="254.5" rx="2.1" ry="1.5"/><ellipse cx="1107.6" cy="250.5" rx="2.1" ry="1.5"/><ellipse cx="1111.0" cy="246.5" rx="2.1" ry="1.5"/><ellipse cx="1114.4" cy="242.5" rx="2.1" ry="1.5"/><ellipse cx="1117.8" cy="238.4" rx="2.1" ry="1.5"/><ellipse cx="1121.3" cy="234.4" rx="2.1" ry="1.5"/><ellipse cx="1124.7" cy="230.4" rx="2.1" ry="1.5"/><ellipse cx="1128.1" cy="226.4" rx="2.1" ry="1.5"/><ellipse cx="1131.5" cy="222.4" rx="2.1" ry="1.5"/><ellipse cx="1134.9" cy="218.3" rx="2.1" ry="1.5"/><ellipse cx="1138.4" cy="214.3" rx="2.1" ry="1.5"/><ellipse cx="1141.8" cy="210.3" rx="2.1" ry="1.5"/><ellipse cx="1145.2" cy="206.3" rx="2.1" ry="1.5"/><ellipse cx="1148.6" cy="202.3" rx="2.1" ry="1.5"/><ellipse cx="1152.0" cy="198.2" rx="2.1" ry="1.5"/><ellipse cx="1155.5" cy="194.2" rx="2.1" ry="1.5"/><ellipse cx="1158.9" cy="190.2" rx="2.1" ry="1.5"/><ellipse cx="1162.3" cy="186.2" rx="2.1" ry="1.5"/></g><g fill="#d89010" fill-opacity="0.45" filter="url(#bl1_5)"><ellipse cx="1025.5" cy="347.0" rx="2.1" ry="1.5"/><ellipse cx="1028.9" cy="350.7" rx="2.1" ry="1.5"/><ellipse cx="1032.3" cy="354.5" rx="2.1" ry="1.5"/><ellipse cx="1035.8" cy="358.2" rx="2.1" ry="1.5"/><ellipse cx="1039.2" cy="362.0" rx="2.1" ry="1.5"/><ellipse cx="1042.6" cy="365.7" rx="2.1" ry="1.5"/><ellipse cx="1046.0" cy="369.5" rx="2.1" ry="1.5"/><ellipse cx="1049.4" cy="373.2" rx="2.1" ry="1.5"/><ellipse cx="1052.9" cy="377.0" rx="2.1" ry="1.5"/><ellipse cx="1056.3" cy="380.7" rx="2.1" ry="1.5"/><ellipse cx="1059.7" cy="384.4" rx="2.1" ry="1.5"/><ellipse cx="1063.1" cy="388.2" rx="2.1" ry="1.5"/><ellipse cx="1066.5" cy="391.9" rx="2.1" ry="1.5"/><ellipse cx="1070.0" cy="395.7" rx="2.1" ry="1.5"/><ellipse cx="1073.4" cy="399.4" rx="2.1" ry="1.5"/><ellipse cx="1076.8" cy="403.2" rx="2.1" ry="1.5"/><ellipse cx="1080.2" cy="406.9" rx="2.1" ry="1.5"/><ellipse cx="1083.6" cy="410.7" rx="2.1" ry="1.5"/><ellipse cx="1087.1" cy="414.4" rx="2.1" ry="1.5"/><ellipse cx="1090.5" cy="418.2" rx="2.1" ry="1.5"/><ellipse cx="1093.9" cy="421.9" rx="2.1" ry="1.5"/><ellipse cx="1097.3" cy="425.6" rx="2.1" ry="1.5"/><ellipse cx="1100.7" cy="429.4" rx="2.1" ry="1.5"/><ellipse cx="1104.2" cy="433.1" rx="2.1" ry="1.5"/><ellipse cx="1107.6" cy="436.9" rx="2.1" ry="1.5"/><ellipse cx="1111.0" cy="440.6" rx="2.1" ry="1.5"/><ellipse cx="1114.4" cy="444.4" rx="2.1" ry="1.5"/><ellipse cx="1117.8" cy="448.1" rx="2.1" ry="1.5"/><ellipse cx="1121.3" cy="451.9" rx="2.1" ry="1.5"/><ellipse cx="1124.7" cy="455.6" rx="2.1" ry="1.5"/><ellipse cx="1128.1" cy="459.3" rx="2.1" ry="1.5"/><ellipse cx="1131.5" cy="463.1" rx="2.1" ry="1.5"/><ellipse cx="1134.9" cy="466.8" rx="2.1" ry="1.5"/></g><g fill="#f4cc00" fill-opacity="1" filter="url(#bl0_45)"><ellipse cx="1025.5" cy="347.0" rx="2.1" ry="1.5"/><ellipse cx="1028.9" cy="350.7" rx="2.1" ry="1.5"/><ellipse cx="1032.3" cy="354.5" rx="2.1" ry="1.5"/><ellipse cx="1035.8" cy="358.2" rx="2.1" ry="1.5"/><ellipse cx="1039.2" cy="362.0" rx="2.1" ry="1.5"/><ellipse cx="1042.6" cy="365.7" rx="2.1" ry="1.5"/><ellipse cx="1046.0" cy="369.5" rx="2.1" ry="1.5"/><ellipse cx="1049.4" cy="373.2" rx="2.1" ry="1.5"/><ellipse cx="1052.9" cy="377.0" rx="2.1" ry="1.5"/><ellipse cx="1056.3" cy="380.7" rx="2.1" ry="1.5"/><ellipse cx="1059.7" cy="384.4" rx="2.1" ry="1.5"/><ellipse cx="1063.1" cy="388.2" rx="2.1" ry="1.5"/><ellipse cx="1066.5" cy="391.9" rx="2.1" ry="1.5"/><ellipse cx="1070.0" cy="395.7" rx="2.1" ry="1.5"/><ellipse cx="1073.4" cy="399.4" rx="2.1" ry="1.5"/><ellipse cx="1076.8" cy="403.2" rx="2.1" ry="1.5"/><ellipse cx="1080.2" cy="406.9" rx="2.1" ry="1.5"/><ellipse cx="1083.6" cy="410.7" rx="2.1" ry="1.5"/><ellipse cx="1087.1" cy="414.4" rx="2.1" ry="1.5"/><ellipse cx="1090.5" cy="418.2" rx="2.1" ry="1.5"/><ellipse cx="1093.9" cy="421.9" rx="2.1" ry="1.5"/><ellipse cx="1097.3" cy="425.6" rx="2.1" ry="1.5"/><ellipse cx="1100.7" cy="429.4" rx="2.1" ry="1.5"/><ellipse cx="1104.2" cy="433.1" rx="2.1" ry="1.5"/><ellipse cx="1107.6" cy="436.9" rx="2.1" ry="1.5"/><ellipse cx="1111.0" cy="440.6" rx="2.1" ry="1.5"/><ellipse cx="1114.4" cy="444.4" rx="2.1" ry="1.5"/><ellipse cx="1117.8" cy="448.1" rx="2.1" ry="1.5"/><ellipse cx="1121.3" cy="451.9" rx="2.1" ry="1.5"/><ellipse cx="1124.7" cy="455.6" rx="2.1" ry="1.5"/><ellipse cx="1128.1" cy="459.3" rx="2.1" ry="1.5"/><ellipse cx="1131.5" cy="463.1" rx="2.1" ry="1.5"/><ellipse cx="1134.9" cy="466.8" rx="2.1" ry="1.5"/></g><g fill="#e8b010" fill-opacity="0.8" filter="url(#bl0_45)"><ellipse cx="1152.0" cy="492.0" rx="1.8" ry="1.2"/><ellipse cx="1155.5" cy="495.4" rx="1.8" ry="1.2"/><ellipse cx="1158.9" cy="498.8" rx="1.8" ry="1.2"/><ellipse cx="1162.3" cy="502.2" rx="1.8" ry="1.2"/><ellipse cx="1165.7" cy="505.5" rx="1.8" ry="1.2"/><ellipse cx="1169.1" cy="508.9" rx="1.8" ry="1.2"/><ellipse cx="1172.6" cy="512.3" rx="1.8" ry="1.2"/><ellipse cx="1176.0" cy="515.7" rx="1.8" ry="1.2"/><ellipse cx="1179.4" cy="519.1" rx="1.8" ry="1.2"/><ellipse cx="1182.8" cy="522.4" rx="1.8" ry="1.2"/><ellipse cx="1186.2" cy="525.8" rx="1.8" ry="1.2"/><ellipse cx="1189.7" cy="529.2" rx="1.8" ry="1.2"/><ellipse cx="1193.1" cy="532.6" rx="1.8" ry="1.2"/><ellipse cx="1196.5" cy="535.9" rx="1.8" ry="1.2"/><ellipse cx="1199.9" cy="539.3" rx="1.8" ry="1.2"/><ellipse cx="1203.3" cy="542.7" rx="1.8" ry="1.2"/><ellipse cx="1206.8" cy="546.1" rx="1.8" ry="1.2"/><ellipse cx="1210.2" cy="549.5" rx="1.8" ry="1.2"/><ellipse cx="1213.6" cy="552.8" rx="1.8" ry="1.2"/><ellipse cx="1217.0" cy="556.2" rx="1.8" ry="1.2"/><ellipse cx="1220.4" cy="559.6" rx="1.8" ry="1.2"/><ellipse cx="1223.9" cy="563.0" rx="1.8" ry="1.2"/><ellipse cx="1227.3" cy="566.3" rx="1.8" ry="1.2"/><ellipse cx="1230.7" cy="569.7" rx="1.8" ry="1.2"/></g><path d="M1023,469.5 Q1090,471 1127,478.4 Q1139,481 1146,487" fill="none" stroke="#d89010" stroke-width="10" stroke-linecap="round" stroke-linejoin="round" stroke-opacity="0.6" filter="url(#bl2_5)"/><path d="M1023,469.5 Q1090,471 1127,478.4 Q1139,481 1146,487" fill="none" stroke="#f8e000" stroke-width="5.5" stroke-linecap="round" stroke-linejoin="round" filter="url(#bl0_8)"/><path d="M1131.3,468.9 L1132.8,470.5 L1134.5,472.1 L1136.4,473.6 L1138.3,475.0 L1140.3,476.4 L1142.4,477.6 L1144.6,478.8 L1146.9,479.8 L1149.3,480.8 L1151.8,481.7 L1154.3,482.5 L1157.1,483.2 L1163.3,484.5 L1169.4,485.9 L1175.6,487.3 L1181.9,488.8 L1188.2,490.3 L1194.6,491.9 L1201.0,493.6 L1207.5,495.3 L1214.0,497.1 L1220.6,498.9 L1227.2,500.8 L1233.9,502.7 L1238.1,485.3 L1231.2,483.9 L1224.3,482.6 L1217.5,481.4 L1210.8,480.2 L1204.1,479.1 L1197.4,478.1 L1190.8,477.1 L1184.3,476.1 L1177.9,475.2 L1171.5,474.3 L1165.1,473.5 L1158.9,472.8 L1156.8,472.4 L1154.6,472.0 L1152.4,471.4 L1150.4,470.8 L1148.4,470.1 L1146.6,469.4 L1144.8,468.5 L1143.0,467.6 L1141.4,466.6 L1139.8,465.6 L1138.3,464.4 L1136.7,463.1Z" fill="#d89010" fill-opacity="0.6" filter="url(#bl2_8)"/><path d="M1132.6,467.5 L1134.2,469.0 L1135.8,470.5 L1137.6,471.9 L1139.5,473.2 L1141.4,474.4 L1143.5,475.6 L1145.6,476.6 L1147.8,477.6 L1150.1,478.5 L1152.5,479.3 L1154.9,480.0 L1157.5,480.7 L1163.7,481.8 L1169.9,483.1 L1176.2,484.4 L1182.5,485.7 L1188.8,487.2 L1195.3,488.6 L1201.7,490.1 L1208.2,491.7 L1214.8,493.4 L1221.5,495.1 L1228.1,496.8 L1234.9,498.6 L1237.1,489.4 L1230.3,487.9 L1223.4,486.5 L1216.7,485.1 L1210.0,483.8 L1203.3,482.6 L1196.7,481.4 L1190.2,480.2 L1183.7,479.1 L1177.3,478.1 L1171.0,477.1 L1164.7,476.2 L1158.5,475.3 L1156.2,474.9 L1153.9,474.4 L1151.7,473.7 L1149.5,473.0 L1147.5,472.3 L1145.5,471.4 L1143.7,470.5 L1141.9,469.5 L1140.1,468.4 L1138.5,467.2 L1136.9,465.9 L1135.4,464.5Z" fill="#f8e000" filter="url(#bl0_9)"/></g>
<g clip-path="url(#clipA1)"><rect x="202.0" y="701.3" width="205.5" height="479.10000000000014" fill="#3d4a9c"/><g fill="#4864b4" fill-opacity="0.55" filter="url(#bl6)"><ellipse cx="365" cy="1060" rx="40" ry="35"/><ellipse cx="300" cy="1090" rx="35" ry="20"/><ellipse cx="265" cy="1005" rx="30" ry="16"/><ellipse cx="385" cy="1000" rx="20" ry="14"/></g><path d="M206,1124 L265,1162" fill="none" stroke="#4a78c0" stroke-width="10" stroke-linecap="round" stroke-linejoin="round" stroke-opacity="0.5" filter="url(#bl3_5)"/><path d="M206,1119 L296,1067 L303,1062" fill="none" stroke="#4a70bc" stroke-width="20" stroke-linecap="round" stroke-linejoin="round" stroke-opacity="0.6" filter="url(#bl4)"/><path d="M196,848 L338,695" fill="none" stroke="#4a70bc" stroke-width="14" stroke-linecap="round" stroke-linejoin="round" stroke-opacity="0.45" filter="url(#bl3)"/><path d="M198,964 L412,1152" fill="none" stroke="#4a70bc" stroke-width="26" stroke-linecap="round" stroke-linejoin="round" stroke-opacity="0.6" filter="url(#bl4)"/><path d="M318,980 L412,1089" fill="none" stroke="#4a70bc" stroke-width="22" stroke-linecap="round" stroke-linejoin="round" stroke-opacity="0.6" filter="url(#bl4)"/><path d="M198,859 L251,908.2 L302,959" fill="none" stroke="#4a70bc" stroke-width="24" stroke-linecap="round" stroke-linejoin="round" stroke-opacity="0.6" filter="url(#bl4)"/><path d="M198,949 L251,908.2 L294,860" fill="none" stroke="#4a70bc" stroke-width="24" stroke-linecap="round" stroke-linejoin="round" stroke-opacity="0.6" filter="url(#bl4)"/><path d="M281.0,867.0 L295.5,865.0 L308.9,856.6 L319.2,845.6 L419.2,750.6 L404.8,735.4 L304.8,830.4 L295.1,839.4 L288.5,843.0 L279.0,843.0Z" fill="#4a70bc" fill-opacity="0.6" filter="url(#bl4)"/><path d="M195.7,870.0 L249.6,871.0 L274.8,871.5 L290.7,869.3 L301.5,862.7 L292.5,839.3 L285.3,839.7 L275.2,838.5 L250.4,837.0 L196.3,836.0Z" fill="#4a70bc" fill-opacity="0.6" filter="url(#bl4)"/><path d="M290.6,872.4 L308.3,876.0 L338.0,882.3 L377.4,890.8 L408.7,898.7 L415.3,863.3 L382.6,859.2 L342.0,855.7 L311.7,853.0 L293.4,851.6Z" fill="#4a70bc" fill-opacity="0.6" filter="url(#bl4)"/><path d="M196,957.7 L250,960.5 L300,965 L350,972 L412,983.5" fill="none" stroke="#4a70bc" stroke-width="37" stroke-linecap="round" stroke-linejoin="round" stroke-opacity="0.6" filter="url(#bl4)"/><path d="M206,1119 L296,1067 L303,1062" fill="none" stroke="#58b0e0" stroke-width="8" stroke-linecap="round" stroke-linejoin="round" stroke-opacity="0.85" filter="url(#bl1_3)"/><path d="M196,848 L338,695" fill="none" stroke="#52b6e6" stroke-width="6" stroke-linecap="round" stroke-linejoin="round" stroke-opacity="0.9" filter="url(#bl1_2)"/><path d="M198,964 L412,1152" fill="none" stroke="#5cc6ee" stroke-width="14" stroke-linecap="round" stroke-linejoin="round" filter="url(#bl1_1)"/><path d="M318,980 L412,1089" fill="none" stroke="#5cc6ee" stroke-width="10" stroke-linecap="round" stroke-linejoin="round" filter="url(#bl1_1)"/><path d="M198,859 L251,908.2 L302,959" fill="none" stroke="#5cc6ee" stroke-width="12" stroke-linecap="round" stroke-linejoin="round" filter="url(#bl1_1)"/><path d="M198,949 L251,908.2 L294,860" fill="none" stroke="#5cc6ee" stroke-width="12" stroke-linecap="round" stroke-linejoin="round" filter="url(#bl1_1)"/><path d="M280.5,861.0 L293.7,859.2 L305.1,851.9 L315.1,841.3 L415.1,746.3 L408.9,739.7 L308.9,834.7 L298.9,844.1 L290.3,848.8 L279.5,849.0Z" fill="#5cc6ee" filter="url(#bl1_1)"/><path d="M195.8,865.0 L249.7,866.0 L274.8,866.5 L289.8,864.3 L299.7,858.0 L294.3,844.0 L286.2,844.7 L275.2,843.5 L250.3,842.0 L196.2,841.0Z" fill="#5cc6ee" filter="url(#bl1_1)"/><path d="M291.2,867.4 L309.0,871.1 L338.7,877.4 L378.2,885.8 L409.6,893.8 L414.4,868.2 L381.8,864.2 L341.3,860.6 L311.0,857.9 L292.8,856.6Z" fill="#5cc6ee" filter="url(#bl1_1)"/><path d="M196,957.7 L250,960.5 L300,965 L350,972 L412,983.5" fill="none" stroke="#5cc6ee" stroke-width="25" stroke-linecap="round" stroke-linejoin="round" filter="url(#bl1_1)"/><path d="M206,1119 L296,1067 L303,1062" fill="none" stroke="#5a98d4" stroke-width="4" stroke-linecap="round" stroke-linejoin="round" filter="url(#bl1)"/><path d="M196,848 L338,695" fill="none" stroke="#5cc2ec" stroke-width="3" stroke-linecap="round" stroke-linejoin="round" filter="url(#bl0_9)"/><path d="M198,964 L412,1152" fill="none" stroke="#8dcfc6" stroke-width="10" stroke-linecap="round" stroke-linejoin="round" filter="url(#bl1_1)"/><path d="M318,980 L412,1089" fill="none" stroke="#86cde0" stroke-width="5" stroke-linecap="round" stroke-linejoin="round" filter="url(#bl1)"/><path d="M198,859 L251,908.2 L302,959" fill="none" stroke="#8dcfc6" stroke-width="8" stroke-linecap="round" stroke-linejoin="round" filter="url(#bl1)"/><path d="M198,949 L251,908.2 L294,860" fill="none" stroke="#8dcfc6" stroke-width="8" stroke-linecap="round" stroke-linejoin="round" filter="url(#bl1)"/><path d="M280.3,858.5 L292.9,856.9 L303.6,850.0 L313.4,839.4 L413.4,744.4 L410.6,741.6 L310.6,836.6 L300.4,846.0 L291.1,851.1 L279.7,851.5Z" fill="#78d0ea" filter="url(#bl1_1)"/><path d="M195.8,863.0 L249.7,864.0 L274.9,864.5 L289.4,862.4 L299.0,856.1 L295.0,845.9 L286.6,846.6 L275.1,845.5 L250.3,844.0 L196.2,843.0Z" fill="#8dcfc6" filter="url(#bl1_2)"/><path d="M291.5,865.5 L309.3,869.1 L339.0,875.4 L378.5,883.9 L410.0,891.8 L414.0,870.2 L381.5,866.1 L341.0,862.6 L310.7,859.9 L292.5,858.5Z" fill="#8dcfc6" filter="url(#bl1_2)"/><path d="M196,957.7 L250,960.5 L300,965 L350,972 L412,983.5" fill="none" stroke="#8dcfc6" stroke-width="21" stroke-linecap="round" stroke-linejoin="round" filter="url(#bl1_2)"/><path d="M198,964 L412,1152" fill="none" stroke="#78bc56" stroke-width="5" stroke-linecap="round" stroke-linejoin="round" filter="url(#bl1_5)"/><path d="M198,859 L251,908.2 L302,959" fill="none" stroke="#80c49a" stroke-width="4" stroke-linecap="round" stroke-linejoin="round" filter="url(#bl1_2)"/><path d="M198,949 L251,908.2 L294,860" fill="none" stroke="#80c49a" stroke-width="4" stroke-linecap="round" stroke-linejoin="round" filter="url(#bl1_2)"/><path d="M195.9,861.0 L249.8,862.0 L274.9,862.5 L289.1,860.4 L298.3,854.3 L295.7,847.7 L286.9,848.6 L275.1,847.5 L250.2,846.0 L196.1,845.0Z" fill="#80c488" filter="url(#bl1_3)"/><path d="M195.9,859.0 L249.8,860.0 L274.9,860.5 L288.7,858.4 L297.5,852.4 L296.5,849.6 L287.3,850.6 L275.1,849.5 L250.2,848.0 L196.1,847.0Z" fill="#6db532" filter="url(#bl1_6)"/><path d="M291.8,863.5 L309.6,867.1 L339.3,873.4 L378.9,881.9 L410.3,889.8 L413.7,872.2 L381.1,868.1 L340.7,864.6 L310.4,861.9 L292.2,860.5Z" fill="#80c488" filter="url(#bl1_3)"/><path d="M292.0,862.2 L309.8,865.7 L339.6,871.9 L379.2,880.1 L410.7,887.9 L413.3,874.1 L380.8,869.9 L340.4,866.1 L310.2,863.3 L292.0,861.8Z" fill="#6db532" filter="url(#bl1_6)"/><path d="M196,957.7 L250,960.5 L300,965 L350,972 L412,983.5" fill="none" stroke="#80c488" stroke-width="17" stroke-linecap="round" stroke-linejoin="round" filter="url(#bl1_3)"/><path d="M196,957.7 L250,960.5 L300,965 L350,972 L412,983.5" fill="none" stroke="#6db532" stroke-width="13" stroke-linecap="round" stroke-linejoin="round" filter="url(#bl1_6)"/><circle cx="251" cy="908" r="4.5" fill="#6db534" filter="url(#bl1)"/><ellipse cx="204" cy="958" rx="5" ry="7" fill="#f4e600" filter="url(#bl1_2)"/><ellipse cx="205" cy="854" rx="4" ry="5" fill="#a8d400" filter="url(#bl1_5)"/><ellipse cx="206" cy="1120" rx="5" ry="4" fill="#5cc6ee" filter="url(#bl1_2)"/></g>
<g clip-path="url(#clipB1)"><rect x="487.3" y="701.3" width="171.90000000000003" height="479.10000000000014" fill="#9c2e16"/><rect x="487.3" y="701.3" width="171.90000000000003" height="479.10000000000014" fill="url(#gBh1)"/><rect x="487.3" y="701.3" width="171.90000000000003" height="479.10000000000014" fill="url(#gBd1)"/><rect x="487.3" y="701.3" width="171.90000000000003" height="479.10000000000014" fill="url(#gBv1)"/><rect x="487.3" y="701.3" width="171.90000000000003" height="479.10000000000014" fill="url(#gBc1)"/><path d="M487,1118 L582,1070" fill="none" stroke="#cc8a22" stroke-width="8" stroke-linecap="round" stroke-linejoin="round" stroke-opacity="0.4" filter="url(#bl3_5)"/><path d="M487,1120 L545,1152 L600,1182" fill="none" stroke="#cc8a22" stroke-width="8" stroke-linecap="round" stroke-linejoin="round" stroke-opacity="0.45" filter="url(#bl3_5)"/><path d="M580,975 Q620,978 662,982" fill="none" stroke="#c88020" stroke-width="6" stroke-linecap="round" stroke-linejoin="round" stroke-opacity="0.35" filter="url(#bl3)"/><path d="M487,960 Q575,1045 664,1124" fill="none" stroke="#cc8a1a" stroke-width="14" stroke-linecap="round" stroke-linejoin="round" stroke-opacity="0.6" filter="url(#bl3_5)"/><path d="M487,960 Q575,1045 664,1124" fill="none" stroke="#dcb010" stroke-width="5.5" stroke-linecap="round" stroke-linejoin="round" filter="url(#bl1_6)"/><path d="M491,956 Q487,960 491,964" fill="none" stroke="#cc8a1a" stroke-width="12" stroke-linecap="round" stroke-linejoin="round" stroke-opacity="0.6" filter="url(#bl3_2)"/><path d="M491,956 Q487,960 491,964" fill="none" stroke="#e0b810" stroke-width="5" stroke-linecap="round" stroke-linejoin="round" filter="url(#bl1_4)"/><path d="M491,956 L572,874" fill="none" stroke="#c8801a" stroke-width="11" stroke-linecap="round" stroke-linejoin="round" stroke-opacity="0.55" filter="url(#bl3_2)"/><path d="M491,956 L572,874" fill="none" stroke="#d4a010" stroke-width="4.5" stroke-linecap="round" stroke-linejoin="round" filter="url(#bl1_4)"/><path d="M579.6,869.0 L586.2,870.4 L592.9,871.9 L599.5,873.5 L606.3,875.1 L613.0,876.9 L619.8,878.7 L626.7,880.6 L633.6,882.5 L640.6,884.6 L647.5,886.7 L654.6,888.9 L661.7,891.2 L666.3,871.8 L658.8,870.6 L651.3,869.6 L643.9,868.6 L636.6,867.7 L629.4,866.8 L622.2,866.1 L615.0,865.4 L608.0,864.8 L601.0,864.2 L594.0,863.8 L587.2,863.4 L580.4,863.0Z" fill="#d09a14" fill-opacity="0.65" filter="url(#bl3_8)"/><path d="M579.9,867.0 L586.5,868.1 L593.2,869.3 L600.0,870.6 L606.8,872.0 L613.6,873.4 L620.5,874.9 L627.5,876.5 L634.5,878.2 L641.5,879.9 L648.6,881.7 L655.8,883.7 L663.0,885.6 L665.0,877.4 L657.6,875.9 L650.2,874.6 L643.0,873.3 L635.7,872.0 L628.6,870.9 L621.5,869.8 L614.4,868.8 L607.4,867.9 L600.5,867.1 L593.7,866.3 L586.9,865.6 L580.1,865.0Z" fill="#dcb408" filter="url(#bl1_8)"/><path d="M485,857.5 Q545,859 572,862.5 Q580,863 590,852 L664,777" fill="none" stroke="#d8a814" stroke-width="19" stroke-linecap="round" stroke-linejoin="round" stroke-opacity="0.7" filter="url(#bl4)"/><path d="M485,857.5 Q545,859 572,862.5 Q580,863 590,852 L664,777" fill="none" stroke="#e0b808" stroke-width="8.5" stroke-linecap="round" stroke-linejoin="round" filter="url(#bl2_2)"/></g>
<g clip-path="url(#clipC1)"><rect x="740.0" y="701.3" width="205.5" height="479.10000000000014" fill="#8d1710"/><rect x="740.0" y="701.3" width="205.5" height="479.10000000000014" fill="url(#gCt1)"/><rect x="740.0" y="701.3" width="205.5" height="479.10000000000014" fill="url(#gCr1)"/><rect x="740.0" y="701.3" width="205.5" height="479.10000000000014" fill="url(#gCb1)"/><rect x="740.0" y="701.3" width="205.5" height="479.10000000000014" fill="url(#gCl1)"/><path d="M746,985 Q850,993 948,1014" fill="none" stroke="#a03c18" stroke-width="8" stroke-linecap="round" stroke-linejoin="round" stroke-opacity="0.5" filter="url(#bl3)"/><path d="M746,985 Q850,993 948,1014" fill="none" stroke="#a84418" stroke-width="3" stroke-linecap="round" stroke-linejoin="round" filter="url(#bl1_2)"/><path d="M740,1121 L948,1018" fill="none" stroke="#a84418" stroke-width="8" stroke-linecap="round" stroke-linejoin="round" stroke-opacity="0.5" filter="url(#bl3)"/><path d="M740,1121 L948,1018" fill="none" stroke="#ac4818" stroke-width="3" stroke-linecap="round" stroke-linejoin="round" filter="url(#bl1_2)"/><path d="M740,1121 L800,1157 L835,1182" fill="none" stroke="#b05418" stroke-width="8" stroke-linecap="round" stroke-linejoin="round" stroke-opacity="0.5" filter="url(#bl3)"/><path d="M740,1121 L800,1157 L835,1182" fill="none" stroke="#b05a1a" stroke-width="3" stroke-linecap="round" stroke-linejoin="round" filter="url(#bl1_2)"/><path d="M748.0,1188.0 L952.0,1097.0 L942.2,1075.1 L738.2,1166.1Z" fill="url(#egG)"/><path d="M748,1188 L952,1097" fill="none" stroke="#b85a1a" stroke-width="8" stroke-linecap="round" stroke-linejoin="round" stroke-opacity="0.5" filter="url(#bl3)"/><path d="M748,1188 L952,1097" fill="none" stroke="#c06a1a" stroke-width="3.5" stroke-linecap="round" stroke-linejoin="round" stroke-opacity="0.8" filter="url(#bl1_6)"/><path d="M740,983.5 Q840,1080 950,1176" fill="none" stroke="#b86018" stroke-width="11" stroke-linecap="round" stroke-linejoin="round" stroke-opacity="0.6" filter="url(#bl3_2)"/><path d="M740,983.5 Q840,1080 950,1176" fill="none" stroke="#d8a010" stroke-width="4.5" stroke-linecap="round" stroke-linejoin="round" filter="url(#bl1_2)"/><path d="M744,979.5 Q740,983.5 744,987.5" fill="none" stroke="#b86018" stroke-width="10" stroke-linecap="round" stroke-linejoin="round" stroke-opacity="0.6" filter="url(#bl3)"/><path d="M744,979.5 Q740,983.5 744,987.5" fill="none" stroke="#dca810" stroke-width="4.5" stroke-linecap="round" stroke-linejoin="round" filter="url(#bl1_1)"/><path d="M744,979.5 L846,875" fill="none" stroke="#b86018" stroke-width="8" stroke-linecap="round" stroke-linejoin="round" stroke-opacity="0.5" filter="url(#bl2_8)"/><path d="M744,979.5 L846,875" fill="none" stroke="#d09810" stroke-width="3.2" stroke-linecap="round" stroke-linejoin="round" stroke-opacity="0.9" filter="url(#bl1)"/><path d="M854.7,877.0 L862.2,878.1 L869.7,879.4 L877.3,880.8 L885.0,882.2 L892.7,883.8 L900.4,885.5 L908.3,887.3 L916.2,889.2 L924.1,891.2 L932.1,893.3 L940.2,895.5 L948.4,897.8 L951.6,884.2 L943.2,882.6 L934.8,881.1 L926.5,879.8 L918.3,878.5 L910.1,877.3 L902.1,876.3 L894.1,875.3 L886.1,874.4 L878.3,873.7 L870.5,873.0 L862.9,872.5 L855.3,872.0Z" fill="#b45e18" fill-opacity="0.6" filter="url(#bl3_2)"/><path d="M854.9,875.2 L862.4,876.2 L870.0,877.3 L877.6,878.4 L885.3,879.7 L893.1,881.1 L901.0,882.6 L908.9,884.2 L916.8,885.8 L924.9,887.6 L933.0,889.6 L941.1,891.6 L949.4,893.7 L950.6,888.3 L942.3,886.5 L934.0,884.9 L925.8,883.3 L917.6,881.8 L909.5,880.4 L901.5,879.2 L893.6,878.0 L885.8,877.0 L878.0,876.0 L870.3,875.2 L862.6,874.4 L855.1,873.8Z" fill="#c87818" filter="url(#bl1_4)"/><path d="M735.9,869.0 L746.4,869.2 L756.7,869.4 L766.7,869.7 L776.4,869.9 L785.9,870.3 L795.2,870.6 L804.2,870.9 L813.0,871.2 L821.5,871.5 L829.7,871.8 L837.7,872.1 L845.6,872.6 L847.7,872.6 L849.7,872.4 L851.7,872.0 L853.6,871.5 L855.5,870.8 L857.4,870.0 L859.1,869.0 L860.8,867.8 L862.4,866.5 L864.0,865.1 L865.4,863.6 L866.1,862.1 L884.2,844.0 L954.2,770.0 L945.8,762.0 L875.8,836.0 L857.9,853.9 L856.2,855.1 L855.3,856.0 L854.3,856.8 L853.4,857.5 L852.5,858.1 L851.6,858.5 L850.8,858.9 L849.9,859.1 L849.1,859.3 L848.2,859.4 L847.3,859.5 L846.4,859.4 L838.7,858.7 L830.6,858.0 L822.3,857.4 L813.7,856.7 L804.9,856.1 L795.8,855.6 L786.5,855.3 L776.9,854.9 L767.1,854.7 L757.0,854.4 L746.7,854.2 L736.1,854.0Z" fill="#c06a18" fill-opacity="0.6" filter="url(#bl3_2)"/><path d="M735.9,865.0 L746.5,865.2 L756.8,865.4 L766.8,865.7 L776.6,865.9 L786.1,866.3 L795.4,866.6 L804.4,866.9 L813.2,867.2 L821.7,867.5 L830.0,867.8 L838.0,868.2 L845.8,868.6 L847.6,868.6 L849.2,868.4 L850.9,868.1 L852.5,867.7 L854.1,867.1 L855.6,866.4 L857.1,865.6 L858.5,864.6 L859.9,863.5 L861.2,862.2 L862.5,860.9 L863.3,859.3 L881.3,841.2 L951.3,767.2 L948.7,764.8 L878.7,838.8 L860.7,856.7 L859.2,857.8 L858.0,858.9 L856.9,859.9 L855.7,860.8 L854.6,861.5 L853.4,862.1 L852.3,862.6 L851.1,863.0 L849.9,863.3 L848.7,863.4 L847.4,863.5 L846.2,863.4 L838.4,862.7 L830.3,862.0 L822.0,861.4 L813.5,860.7 L804.7,860.1 L795.6,859.6 L786.3,859.3 L776.8,858.9 L767.0,858.7 L756.9,858.4 L746.6,858.2 L736.1,858.0Z" fill="#d8a010" filter="url(#bl1_3)"/></g>
<g clip-path="url(#clipD1)"><rect x="1025.5" y="701.3" width="205.0" height="479.10000000000014" fill="#8b150e"/><rect x="1025.5" y="701.3" width="205.0" height="479.10000000000014" fill="url(#gDt1)"/><rect x="1025.5" y="701.3" width="205.0" height="479.10000000000014" fill="url(#gDr1)"/><rect x="1025.5" y="701.3" width="205.0" height="479.10000000000014" fill="url(#gDb1)"/><rect x="1025.5" y="701.3" width="205.0" height="479.10000000000014" fill="url(#gDl1)"/><path d="M1000.0,1197.0 L1240.0,1097.0 L1228.5,1069.3 L988.5,1169.3Z" fill="url(#egH)"/><path d="M1025.5,1123 L1232,1022" fill="none" stroke="#e09a14" stroke-width="2.0" stroke-linecap="round" stroke-linejoin="round" filter="url(#bl0_5)"/><g fill="#e8b010" fill-opacity="1" filter="url(#bl0_45)"><ellipse cx="1025.5" cy="1125.3" rx="1.9" ry="1.1"/><ellipse cx="1028.9" cy="1127.4" rx="1.9" ry="1.1"/><ellipse cx="1032.3" cy="1129.5" rx="1.9" ry="1.1"/><ellipse cx="1035.8" cy="1131.6" rx="1.9" ry="1.1"/><ellipse cx="1039.2" cy="1133.7" rx="1.9" ry="1.1"/><ellipse cx="1042.6" cy="1135.8" rx="1.9" ry="1.1"/><ellipse cx="1046.0" cy="1137.9" rx="1.9" ry="1.1"/><ellipse cx="1049.4" cy="1140.0" rx="1.9" ry="1.1"/><ellipse cx="1052.9" cy="1142.1" rx="1.9" ry="1.1"/><ellipse cx="1056.3" cy="1144.2" rx="1.9" ry="1.1"/><ellipse cx="1059.7" cy="1146.3" rx="1.9" ry="1.1"/><ellipse cx="1063.1" cy="1148.4" rx="1.9" ry="1.1"/><ellipse cx="1066.5" cy="1150.5" rx="1.9" ry="1.1"/><ellipse cx="1070.0" cy="1152.6" rx="1.9" ry="1.1"/><ellipse cx="1073.4" cy="1154.6" rx="1.9" ry="1.1"/><ellipse cx="1076.8" cy="1156.7" rx="1.9" ry="1.1"/><ellipse cx="1080.2" cy="1158.8" rx="1.9" ry="1.1"/><ellipse cx="1083.6" cy="1160.9" rx="1.9" ry="1.1"/><ellipse cx="1087.1" cy="1163.0" rx="1.9" ry="1.1"/><ellipse cx="1090.5" cy="1165.1" rx="1.9" ry="1.1"/><ellipse cx="1093.9" cy="1167.2" rx="1.9" ry="1.1"/><ellipse cx="1097.3" cy="1169.3" rx="1.9" ry="1.1"/><ellipse cx="1100.7" cy="1171.4" rx="1.9" ry="1.1"/><ellipse cx="1104.2" cy="1173.5" rx="1.9" ry="1.1"/><ellipse cx="1107.6" cy="1175.6" rx="1.9" ry="1.1"/><ellipse cx="1111.0" cy="1177.7" rx="1.9" ry="1.1"/><ellipse cx="1114.4" cy="1179.8" rx="1.9" ry="1.1"/><ellipse cx="1117.8" cy="1181.9" rx="1.9" ry="1.1"/></g><path d="M1032,988 Q1130,997 1232,1014" fill="none" stroke="#f0c000" stroke-width="2.4" stroke-linecap="round" stroke-linejoin="round" stroke-opacity="0.85" stroke-dasharray="0.01 10" filter="url(#bl0_35)"/><path d="M1195,1009 Q1212,1013 1232,1014" fill="none" stroke="#f0c000" stroke-width="2.0" stroke-linecap="round" stroke-linejoin="round" filter="url(#bl0_5)"/><g fill="#d89010" fill-opacity="0.45" filter="url(#bl1_5)"><ellipse cx="1025.5" cy="982.0" rx="2.1" ry="1.5"/><ellipse cx="1028.9" cy="978.7" rx="2.1" ry="1.5"/><ellipse cx="1032.3" cy="975.3" rx="2.1" ry="1.5"/><ellipse cx="1035.8" cy="972.0" rx="2.1" ry="1.5"/><ellipse cx="1039.2" cy="968.6" rx="2.1" ry="1.5"/><ellipse cx="1042.6" cy="965.3" rx="2.1" ry="1.5"/><ellipse cx="1046.0" cy="962.0" rx="2.1" ry="1.5"/><ellipse cx="1049.4" cy="958.6" rx="2.1" ry="1.5"/><ellipse cx="1052.9" cy="955.3" rx="2.1" ry="1.5"/><ellipse cx="1056.3" cy="951.9" rx="2.1" ry="1.5"/><ellipse cx="1059.7" cy="948.6" rx="2.1" ry="1.5"/><ellipse cx="1063.1" cy="945.3" rx="2.1" ry="1.5"/><ellipse cx="1066.5" cy="941.9" rx="2.1" ry="1.5"/><ellipse cx="1070.0" cy="938.6" rx="2.1" ry="1.5"/><ellipse cx="1073.4" cy="935.3" rx="2.1" ry="1.5"/><ellipse cx="1076.8" cy="931.9" rx="2.1" ry="1.5"/><ellipse cx="1080.2" cy="928.6" rx="2.1" ry="1.5"/><ellipse cx="1083.6" cy="925.2" rx="2.1" ry="1.5"/><ellipse cx="1087.1" cy="921.9" rx="2.1" ry="1.5"/><ellipse cx="1090.5" cy="918.6" rx="2.1" ry="1.5"/><ellipse cx="1093.9" cy="915.2" rx="2.1" ry="1.5"/><ellipse cx="1097.3" cy="911.9" rx="2.1" ry="1.5"/><ellipse cx="1100.7" cy="908.5" rx="2.1" ry="1.5"/><ellipse cx="1104.2" cy="905.2" rx="2.1" ry="1.5"/><ellipse cx="1107.6" cy="901.9" rx="2.1" ry="1.5"/><ellipse cx="1111.0" cy="898.5" rx="2.1" ry="1.5"/><ellipse cx="1114.4" cy="895.2" rx="2.1" ry="1.5"/><ellipse cx="1117.8" cy="891.8" rx="2.1" ry="1.5"/><ellipse cx="1121.3" cy="888.5" rx="2.1" ry="1.5"/><ellipse cx="1124.7" cy="885.2" rx="2.1" ry="1.5"/><ellipse cx="1128.1" cy="881.8" rx="2.1" ry="1.5"/></g><g fill="#f4cc00" fill-opacity="1" filter="url(#bl0_45)"><ellipse cx="1025.5" cy="982.0" rx="2.1" ry="1.5"/><ellipse cx="1028.9" cy="978.7" rx="2.1" ry="1.5"/><ellipse cx="1032.3" cy="975.3" rx="2.1" ry="1.5"/><ellipse cx="1035.8" cy="972.0" rx="2.1" ry="1.5"/><ellipse cx="1039.2" cy="968.6" rx="2.1" ry="1.5"/><ellipse cx="1042.6" cy="965.3" rx="2.1" ry="1.5"/><ellipse cx="1046.0" cy="962.0" rx="2.1" ry="1.5"/><ellipse cx="1049.4" cy="958.6" rx="2.1" ry="1.5"/><ellipse cx="1052.9" cy="955.3" rx="2.1" ry="1.5"/><ellipse cx="1056.3" cy="951.9" rx="2.1" ry="1.5"/><ellipse cx="1059.7" cy="948.6" rx="2.1" ry="1.5"/><ellipse cx="1063.1" cy="945.3" rx="2.1" ry="1.5"/><ellipse cx="1066.5" cy="941.9" rx="2.1" ry="1.5"/><ellipse cx="1070.0" cy="938.6" rx="2.1" ry="1.5"/><ellipse cx="1073.4" cy="935.3" rx="2.1" ry="1.5"/><ellipse cx="1076.8" cy="931.9" rx="2.1" ry="1.5"/><ellipse cx="1080.2" cy="928.6" rx="2.1" ry="1.5"/><ellipse cx="1083.6" cy="925.2" rx="2.1" ry="1.5"/><ellipse cx="1087.1" cy="921.9" rx="2.1" ry="1.5"/><ellipse cx="1090.5" cy="918.6" rx="2.1" ry="1.5"/><ellipse cx="1093.9" cy="915.2" rx="2.1" ry="1.5"/><ellipse cx="1097.3" cy="911.9" rx="2.1" ry="1.5"/><ellipse cx="1100.7" cy="908.5" rx="2.1" ry="1.5"/><ellipse cx="1104.2" cy="905.2" rx="2.1" ry="1.5"/><ellipse cx="1107.6" cy="901.9" rx="2.1" ry="1.5"/><ellipse cx="1111.0" cy="898.5" rx="2.1" ry="1.5"/><ellipse cx="1114.4" cy="895.2" rx="2.1" ry="1.5"/><ellipse cx="1117.8" cy="891.8" rx="2.1" ry="1.5"/><ellipse cx="1121.3" cy="888.5" rx="2.1" ry="1.5"/><ellipse cx="1124.7" cy="885.2" rx="2.1" ry="1.5"/><ellipse cx="1128.1" cy="881.8" rx="2.1" ry="1.5"/></g><g fill="#d89010" fill-opacity="0.45" filter="url(#bl1_5)"><ellipse cx="1025.5" cy="991.0" rx="2.4" ry="1.7"/><ellipse cx="1028.9" cy="994.2" rx="2.4" ry="1.7"/><ellipse cx="1032.3" cy="997.4" rx="2.4" ry="1.7"/><ellipse cx="1035.8" cy="1000.7" rx="2.4" ry="1.7"/><ellipse cx="1039.2" cy="1003.9" rx="2.4" ry="1.7"/><ellipse cx="1042.6" cy="1007.1" rx="2.4" ry="1.7"/><ellipse cx="1046.0" cy="1010.3" rx="2.4" ry="1.7"/><ellipse cx="1049.4" cy="1013.6" rx="2.4" ry="1.7"/><ellipse cx="1052.9" cy="1016.8" rx="2.4" ry="1.7"/><ellipse cx="1056.3" cy="1020.0" rx="2.4" ry="1.7"/><ellipse cx="1059.7" cy="1023.2" rx="2.4" ry="1.7"/><ellipse cx="1063.1" cy="1026.5" rx="2.4" ry="1.7"/><ellipse cx="1066.5" cy="1029.7" rx="2.4" ry="1.7"/><ellipse cx="1070.0" cy="1032.9" rx="2.4" ry="1.7"/><ellipse cx="1073.4" cy="1036.1" rx="2.4" ry="1.7"/><ellipse cx="1076.8" cy="1039.4" rx="2.4" ry="1.7"/><ellipse cx="1080.2" cy="1042.6" rx="2.4" ry="1.7"/><ellipse cx="1083.6" cy="1045.8" rx="2.4" ry="1.7"/><ellipse cx="1087.1" cy="1049.0" rx="2.4" ry="1.7"/><ellipse cx="1090.5" cy="1052.3" rx="2.4" ry="1.7"/><ellipse cx="1093.9" cy="1055.5" rx="2.4" ry="1.7"/><ellipse cx="1097.3" cy="1058.7" rx="2.4" ry="1.7"/><ellipse cx="1100.7" cy="1061.8" rx="2.4" ry="1.7"/><ellipse cx="1104.2" cy="1064.9" rx="2.4" ry="1.7"/><ellipse cx="1107.6" cy="1068.0" rx="2.4" ry="1.7"/><ellipse cx="1111.0" cy="1071.0" rx="2.4" ry="1.7"/><ellipse cx="1114.4" cy="1074.1" rx="2.4" ry="1.7"/><ellipse cx="1117.8" cy="1077.2" rx="2.4" ry="1.7"/><ellipse cx="1121.3" cy="1080.3" rx="2.4" ry="1.7"/><ellipse cx="1124.7" cy="1083.3" rx="2.4" ry="1.7"/><ellipse cx="1128.1" cy="1086.4" rx="2.4" ry="1.7"/><ellipse cx="1131.5" cy="1089.5" rx="2.4" ry="1.7"/><ellipse cx="1134.9" cy="1092.6" rx="2.4" ry="1.7"/><ellipse cx="1138.4" cy="1095.6" rx="2.4" ry="1.7"/><ellipse cx="1141.8" cy="1098.7" rx="2.4" ry="1.7"/><ellipse cx="1145.2" cy="1101.8" rx="2.4" ry="1.7"/><ellipse cx="1148.6" cy="1104.8" rx="2.4" ry="1.7"/><ellipse cx="1152.0" cy="1107.9" rx="2.4" ry="1.7"/><ellipse cx="1155.5" cy="1111.0" rx="2.4" ry="1.7"/><ellipse cx="1158.9" cy="1114.1" rx="2.4" ry="1.7"/><ellipse cx="1162.3" cy="1117.1" rx="2.4" ry="1.7"/><ellipse cx="1165.7" cy="1120.2" rx="2.4" ry="1.7"/><ellipse cx="1169.1" cy="1123.3" rx="2.4" ry="1.7"/><ellipse cx="1172.6" cy="1126.3" rx="2.4" ry="1.7"/><ellipse cx="1176.0" cy="1129.2" rx="2.4" ry="1.7"/><ellipse cx="1179.4" cy="1131.8" rx="2.4" ry="1.7"/><ellipse cx="1182.8" cy="1134.4" rx="2.4" ry="1.7"/><ellipse cx="1186.2" cy="1137.0" rx="2.4" ry="1.7"/><ellipse cx="1189.7" cy="1139.7" rx="2.4" ry="1.7"/><ellipse cx="1193.1" cy="1142.3" rx="2.4" ry="1.7"/><ellipse cx="1196.5" cy="1144.9" rx="2.4" ry="1.7"/><ellipse cx="1199.9" cy="1147.5" rx="2.4" ry="1.7"/><ellipse cx="1203.3" cy="1150.1" rx="2.4" ry="1.7"/><ellipse cx="1206.8" cy="1152.7" rx="2.4" ry="1.7"/><ellipse cx="1210.2" cy="1155.3" rx="2.4" ry="1.7"/><ellipse cx="1213.6" cy="1157.9" rx="2.4" ry="1.7"/><ellipse cx="1217.0" cy="1160.6" rx="2.4" ry="1.7"/><ellipse cx="1220.4" cy="1163.2" rx="2.4" ry="1.7"/><ellipse cx="1223.9" cy="1165.8" rx="2.4" ry="1.7"/><ellipse cx="1227.3" cy="1168.4" rx="2.4" ry="1.7"/><ellipse cx="1230.7" cy="1171.0" rx="2.4" ry="1.7"/></g><g fill="#f4cc00" fill-opacity="1" filter="url(#bl0_45)"><ellipse cx="1025.5" cy="991.0" rx="2.4" ry="1.7"/><ellipse cx="1028.9" cy="994.2" rx="2.4" ry="1.7"/><ellipse cx="1032.3" cy="997.4" rx="2.4" ry="1.7"/><ellipse cx="1035.8" cy="1000.7" rx="2.4" ry="1.7"/><ellipse cx="1039.2" cy="1003.9" rx="2.4" ry="1.7"/><ellipse cx="1042.6" cy="1007.1" rx="2.4" ry="1.7"/><ellipse cx="1046.0" cy="1010.3" rx="2.4" ry="1.7"/><ellipse cx="1049.4" cy="1013.6" rx="2.4" ry="1.7"/><ellipse cx="1052.9" cy="1016.8" rx="2.4" ry="1.7"/><ellipse cx="1056.3" cy="1020.0" rx="2.4" ry="1.7"/><ellipse cx="1059.7" cy="1023.2" rx="2.4" ry="1.7"/><ellipse cx="1063.1" cy="1026.5" rx="2.4" ry="1.7"/><ellipse cx="1066.5" cy="1029.7" rx="2.4" ry="1.7"/><ellipse cx="1070.0" cy="1032.9" rx="2.4" ry="1.7"/><ellipse cx="1073.4" cy="1036.1" rx="2.4" ry="1.7"/><ellipse cx="1076.8" cy="1039.4" rx="2.4" ry="1.7"/><ellipse cx="1080.2" cy="1042.6" rx="2.4" ry="1.7"/><ellipse cx="1083.6" cy="1045.8" rx="2.4" ry="1.7"/><ellipse cx="1087.1" cy="1049.0" rx="2.4" ry="1.7"/><ellipse cx="1090.5" cy="1052.3" rx="2.4" ry="1.7"/><ellipse cx="1093.9" cy="1055.5" rx="2.4" ry="1.7"/><ellipse cx="1097.3" cy="1058.7" rx="2.4" ry="1.7"/><ellipse cx="1100.7" cy="1061.8" rx="2.4" ry="1.7"/><ellipse cx="1104.2" cy="1064.9" rx="2.4" ry="1.7"/><ellipse cx="1107.6" cy="1068.0" rx="2.4" ry="1.7"/><ellipse cx="1111.0" cy="1071.0" rx="2.4" ry="1.7"/><ellipse cx="1114.4" cy="1074.1" rx="2.4" ry="1.7"/><ellipse cx="1117.8" cy="1077.2" rx="2.4" ry="1.7"/><ellipse cx="1121.3" cy="1080.3" rx="2.4" ry="1.7"/><ellipse cx="1124.7" cy="1083.3" rx="2.4" ry="1.7"/><ellipse cx="1128.1" cy="1086.4" rx="2.4" ry="1.7"/><ellipse cx="1131.5" cy="1089.5" rx="2.4" ry="1.7"/><ellipse cx="1134.9" cy="1092.6" rx="2.4" ry="1.7"/><ellipse cx="1138.4" cy="1095.6" rx="2.4" ry="1.7"/><ellipse cx="1141.8" cy="1098.7" rx="2.4" ry="1.7"/><ellipse cx="1145.2" cy="1101.8" rx="2.4" ry="1.7"/><ellipse cx="1148.6" cy="1104.8" rx="2.4" ry="1.7"/><ellipse cx="1152.0" cy="1107.9" rx="2.4" ry="1.7"/><ellipse cx="1155.5" cy="1111.0" rx="2.4" ry="1.7"/><ellipse cx="1158.9" cy="1114.1" rx="2.4" ry="1.7"/><ellipse cx="1162.3" cy="1117.1" rx="2.4" ry="1.7"/><ellipse cx="1165.7" cy="1120.2" rx="2.4" ry="1.7"/><ellipse cx="1169.1" cy="1123.3" rx="2.4" ry="1.7"/><ellipse cx="1172.6" cy="1126.3" rx="2.4" ry="1.7"/><ellipse cx="1176.0" cy="1129.2" rx="2.4" ry="1.7"/><ellipse cx="1179.4" cy="1131.8" rx="2.4" ry="1.7"/><ellipse cx="1182.8" cy="1134.4" rx="2.4" ry="1.7"/><ellipse cx="1186.2" cy="1137.0" rx="2.4" ry="1.7"/><ellipse cx="1189.7" cy="1139.7" rx="2.4" ry="1.7"/><ellipse cx="1193.1" cy="1142.3" rx="2.4" ry="1.7"/><ellipse cx="1196.5" cy="1144.9" rx="2.4" ry="1.7"/><ellipse cx="1199.9" cy="1147.5" rx="2.4" ry="1.7"/><ellipse cx="1203.3" cy="1150.1" rx="2.4" ry="1.7"/><ellipse cx="1206.8" cy="1152.7" rx="2.4" ry="1.7"/><ellipse cx="1210.2" cy="1155.3" rx="2.4" ry="1.7"/><ellipse cx="1213.6" cy="1157.9" rx="2.4" ry="1.7"/><ellipse cx="1217.0" cy="1160.6" rx="2.4" ry="1.7"/><ellipse cx="1220.4" cy="1163.2" rx="2.4" ry="1.7"/><ellipse cx="1223.9" cy="1165.8" rx="2.4" ry="1.7"/><ellipse cx="1227.3" cy="1168.4" rx="2.4" ry="1.7"/><ellipse cx="1230.7" cy="1171.0" rx="2.4" ry="1.7"/></g><g fill="#d89010" fill-opacity="0.45" filter="url(#bl1_5)"><ellipse cx="1145.2" cy="854.8" rx="2.1" ry="1.5"/><ellipse cx="1148.6" cy="851.5" rx="2.1" ry="1.5"/><ellipse cx="1152.0" cy="848.2" rx="2.1" ry="1.5"/><ellipse cx="1155.5" cy="844.8" rx="2.1" ry="1.5"/><ellipse cx="1158.9" cy="841.5" rx="2.1" ry="1.5"/><ellipse cx="1162.3" cy="838.1" rx="2.1" ry="1.5"/><ellipse cx="1165.7" cy="834.8" rx="2.1" ry="1.5"/><ellipse cx="1169.1" cy="831.4" rx="2.1" ry="1.5"/><ellipse cx="1172.6" cy="828.1" rx="2.1" ry="1.5"/><ellipse cx="1176.0" cy="824.8" rx="2.1" ry="1.5"/><ellipse cx="1179.4" cy="821.4" rx="2.1" ry="1.5"/><ellipse cx="1182.8" cy="818.1" rx="2.1" ry="1.5"/><ellipse cx="1186.2" cy="814.7" rx="2.1" ry="1.5"/><ellipse cx="1189.7" cy="811.4" rx="2.1" ry="1.5"/><ellipse cx="1193.1" cy="808.0" rx="2.1" ry="1.5"/><ellipse cx="1196.5" cy="804.7" rx="2.1" ry="1.5"/><ellipse cx="1199.9" cy="801.4" rx="2.1" ry="1.5"/><ellipse cx="1203.3" cy="798.0" rx="2.1" ry="1.5"/><ellipse cx="1206.8" cy="794.7" rx="2.1" ry="1.5"/><ellipse cx="1210.2" cy="791.3" rx="2.1" ry="1.5"/><ellipse cx="1213.6" cy="788.0" rx="2.1" ry="1.5"/><ellipse cx="1217.0" cy="784.6" rx="2.1" ry="1.5"/><ellipse cx="1220.4" cy="781.3" rx="2.1" ry="1.5"/><ellipse cx="1223.9" cy="778.0" rx="2.1" ry="1.5"/><ellipse cx="1227.3" cy="774.6" rx="2.1" ry="1.5"/><ellipse cx="1230.7" cy="771.3" rx="2.1" ry="1.5"/></g><g fill="#f4cc00" fill-opacity="1" filter="url(#bl0_45)"><ellipse cx="1145.2" cy="854.8" rx="2.1" ry="1.5"/><ellipse cx="1148.6" cy="851.5" rx="2.1" ry="1.5"/><ellipse cx="1152.0" cy="848.2" rx="2.1" ry="1.5"/><ellipse cx="1155.5" cy="844.8" rx="2.1" ry="1.5"/><ellipse cx="1158.9" cy="841.5" rx="2.1" ry="1.5"/><ellipse cx="1162.3" cy="838.1" rx="2.1" ry="1.5"/><ellipse cx="1165.7" cy="834.8" rx="2.1" ry="1.5"/><ellipse cx="1169.1" cy="831.4" rx="2.1" ry="1.5"/><ellipse cx="1172.6" cy="828.1" rx="2.1" ry="1.5"/><ellipse cx="1176.0" cy="824.8" rx="2.1" ry="1.5"/><ellipse cx="1179.4" cy="821.4" rx="2.1" ry="1.5"/><ellipse cx="1182.8" cy="818.1" rx="2.1" ry="1.5"/><ellipse cx="1186.2" cy="814.7" rx="2.1" ry="1.5"/><ellipse cx="1189.7" cy="811.4" rx="2.1" ry="1.5"/><ellipse cx="1193.1" cy="808.0" rx="2.1" ry="1.5"/><ellipse cx="1196.5" cy="804.7" rx="2.1" ry="1.5"/><ellipse cx="1199.9" cy="801.4" rx="2.1" ry="1.5"/><ellipse cx="1203.3" cy="798.0" rx="2.1" ry="1.5"/><ellipse cx="1206.8" cy="794.7" rx="2.1" ry="1.5"/><ellipse cx="1210.2" cy="791.3" rx="2.1" ry="1.5"/><ellipse cx="1213.6" cy="788.0" rx="2.1" ry="1.5"/><ellipse cx="1217.0" cy="784.6" rx="2.1" ry="1.5"/><ellipse cx="1220.4" cy="781.3" rx="2.1" ry="1.5"/><ellipse cx="1223.9" cy="778.0" rx="2.1" ry="1.5"/><ellipse cx="1227.3" cy="774.6" rx="2.1" ry="1.5"/><ellipse cx="1230.7" cy="771.3" rx="2.1" ry="1.5"/></g><path d="M1023,862.5 Q1090,863 1131,865.7 Q1138,865 1144,857" fill="none" stroke="#d89010" stroke-width="9" stroke-linecap="round" stroke-linejoin="round" stroke-opacity="0.6" filter="url(#bl2_5)"/><path d="M1023,862.5 Q1090,863 1131,865.7 Q1138,865 1144,857" fill="none" stroke="#f8e000" stroke-width="5" stroke-linecap="round" stroke-linejoin="round" filter="url(#bl0_8)"/><path d="M1136.9,877.0 L1144.9,877.9 L1152.9,879.0 L1160.9,880.2 L1169.0,881.6 L1177.1,883.1 L1185.2,884.8 L1193.4,886.6 L1201.6,888.5 L1209.8,890.6 L1218.0,892.9 L1226.3,895.3 L1234.7,897.8 L1237.3,888.2 L1228.7,886.2 L1220.1,884.4 L1211.6,882.7 L1203.1,881.1 L1194.7,879.7 L1186.3,878.5 L1178.0,877.4 L1169.7,876.4 L1161.5,875.6 L1153.3,874.9 L1145.2,874.4 L1137.1,874.0Z" fill="#d89010" fill-opacity="0.55" filter="url(#bl2_5)"/><path d="M1136.9,876.2 L1144.9,877.1 L1153.0,878.0 L1161.0,879.1 L1169.1,880.4 L1177.3,881.8 L1185.4,883.3 L1193.7,885.0 L1201.9,886.9 L1210.2,888.8 L1218.5,891.0 L1226.9,893.2 L1235.3,895.7 L1236.7,890.3 L1228.2,888.2 L1219.6,886.3 L1211.2,884.5 L1202.8,882.8 L1194.4,881.3 L1186.1,879.9 L1177.8,878.7 L1169.5,877.6 L1161.3,876.7 L1153.2,875.9 L1145.1,875.3 L1137.1,874.8Z" fill="#f8e000" filter="url(#bl0_7)"/></g>
<path d="M202.0,187.5H407.5V667.4H202.0ZM188.0,187.5H202.0M407.5,187.5H421.5M194.0,228.9H202.0M407.5,228.9H415.5M188.0,270.2H202.0M194.0,311.6H202.0M407.5,311.6H415.5M188.0,353.0H202.0M194.0,394.4H202.0M407.5,394.4H415.5M188.0,435.7H202.0M194.0,477.1H202.0M407.5,477.1H415.5M188.0,518.5H202.0M194.0,559.8H202.0M407.5,559.8H415.5M188.0,601.2H202.0M194.0,642.6H202.0M407.5,642.6H415.5M202.0,667.4V681.4M236.2,667.4V675.4M270.5,667.4V681.4M304.8,667.4V675.4M339.0,667.4V681.4M373.2,667.4V675.4M407.5,667.4V681.4M487.3,187.5H659.2V667.4H487.3ZM473.3,187.5H487.3M659.2,187.5H673.2M479.3,228.9H487.3M659.2,228.9H667.2M479.3,311.6H487.3M659.2,311.6H667.2M479.3,394.4H487.3M659.2,394.4H667.2M479.3,477.1H487.3M659.2,477.1H667.2M479.3,559.8H487.3M659.2,559.8H667.2M479.3,642.6H487.3M659.2,642.6H667.2M487.3,667.4V681.4M521.7,667.4V675.4M556.1,667.4V681.4M590.4,667.4V675.4M624.8,667.4V681.4M659.2,667.4V675.4M740.0,187.5H945.5V667.4H740.0ZM726.0,187.5H740.0M945.5,187.5H959.5M732.0,228.9H740.0M945.5,228.9H953.5M732.0,311.6H740.0M945.5,311.6H953.5M732.0,394.4H740.0M945.5,394.4H953.5M732.0,477.1H740.0M945.5,477.1H953.5M732.0,559.8H740.0M945.5,559.8H953.5M732.0,642.6H740.0M945.5,642.6H953.5M740.0,667.4V681.4M774.2,667.4V675.4M808.5,667.4V681.4M842.8,667.4V675.4M877.0,667.4V681.4M911.2,667.4V675.4M945.5,667.4V681.4M1025.5,187.5H1230.5V667.4H1025.5ZM1011.5,187.5H1025.5M1230.5,187.5H1244.5M1017.5,228.9H1025.5M1230.5,228.9H1238.5M1230.5,270.2H1244.5M1017.5,311.6H1025.5M1230.5,311.6H1238.5M1230.5,353.0H1244.5M1017.5,394.4H1025.5M1230.5,394.4H1238.5M1230.5,435.7H1244.5M1017.5,477.1H1025.5M1230.5,477.1H1238.5M1230.5,518.5H1244.5M1017.5,559.8H1025.5M1230.5,559.8H1238.5M1230.5,601.2H1244.5M1017.5,642.6H1025.5M1230.5,642.6H1238.5M1025.5,667.4V681.4M1059.7,667.4V675.4M1093.8,667.4V681.4M1128.0,667.4V675.4M1162.2,667.4V681.4M1196.3,667.4V675.4M1230.5,667.4V681.4M407.5,270.2H424.0M434.0,270.2h4M447.0,270.2h4M459.5,270.2h4M472.8,270.2H487.3M407.5,353.0H424.0M434.0,353.0h4M447.0,353.0h4M459.5,353.0h4M472.8,353.0H487.3M407.5,435.7H424.0M434.0,435.7h4M447.0,435.7h4M459.5,435.7h4M472.8,435.7H487.3M407.5,518.5H424.0M434.0,518.5h4M447.0,518.5h4M459.5,518.5h4M472.8,518.5H487.3M407.5,601.2H424.0M434.0,601.2h4M447.0,601.2h4M459.5,601.2h4M472.8,601.2H487.3M659.2,270.2H675.7M685.7,270.2h4M698.7,270.2h4M711.2,270.2h4M725.5,270.2H740.0M659.2,353.0H675.7M685.7,353.0h4M698.7,353.0h4M711.2,353.0h4M725.5,353.0H740.0M659.2,435.7H675.7M685.7,435.7h4M698.7,435.7h4M711.2,435.7h4M725.5,435.7H740.0M659.2,518.5H675.7M685.7,518.5h4M698.7,518.5h4M711.2,518.5h4M725.5,518.5H740.0M659.2,601.2H675.7M685.7,601.2h4M698.7,601.2h4M711.2,601.2h4M725.5,601.2H740.0M945.5,270.2H962.0M972.0,270.2h4M985.0,270.2h4M997.5,270.2h4M1011.0,270.2H1025.5M945.5,353.0H962.0M972.0,353.0h4M985.0,353.0h4M997.5,353.0h4M1011.0,353.0H1025.5M945.5,435.7H962.0M972.0,435.7h4M985.0,435.7h4M997.5,435.7h4M1011.0,435.7H1025.5M945.5,518.5H962.0M972.0,518.5h4M985.0,518.5h4M997.5,518.5h4M1011.0,518.5H1025.5M945.5,601.2H962.0M972.0,601.2h4M985.0,601.2h4M997.5,601.2h4M1011.0,601.2H1025.5M202.0,701.3H407.5V1180.4H202.0ZM188.0,701.3H202.0M407.5,701.3H421.5M194.0,742.6H202.0M407.5,742.6H415.5M188.0,783.9H202.0M194.0,825.2H202.0M407.5,825.2H415.5M188.0,866.5H202.0M194.0,907.8H202.0M407.5,907.8H415.5M188.0,949.1H202.0M194.0,990.4H202.0M407.5,990.4H415.5M188.0,1031.7H202.0M194.0,1073.0H202.0M407.5,1073.0H415.5M188.0,1114.3H202.0M194.0,1155.6H202.0M407.5,1155.6H415.5M202.0,701.3V687.3M202.0,1180.4V1194.4M236.2,701.3V693.3M236.2,1180.4V1188.4M270.5,701.3V687.3M270.5,1180.4V1194.4M304.8,701.3V693.3M304.8,1180.4V1188.4M339.0,701.3V687.3M339.0,1180.4V1194.4M373.2,701.3V693.3M373.2,1180.4V1188.4M407.5,701.3V687.3M407.5,1180.4V1194.4M487.3,701.3H659.2V1180.4H487.3ZM473.3,701.3H487.3M659.2,701.3H673.2M479.3,742.6H487.3M659.2,742.6H667.2M479.3,825.2H487.3M659.2,825.2H667.2M479.3,907.8H487.3M659.2,907.8H667.2M479.3,990.4H487.3M659.2,990.4H667.2M479.3,1073.0H487.3M659.2,1073.0H667.2M479.3,1155.6H487.3M659.2,1155.6H667.2M487.3,701.3V687.3M487.3,1180.4V1194.4M521.7,701.3V693.3M521.7,1180.4V1188.4M556.1,701.3V687.3M556.1,1180.4V1194.4M590.4,701.3V693.3M590.4,1180.4V1188.4M624.8,701.3V687.3M624.8,1180.4V1194.4M659.2,701.3V693.3M659.2,1180.4V1188.4M740.0,701.3H945.5V1180.4H740.0ZM726.0,701.3H740.0M945.5,701.3H959.5M732.0,742.6H740.0M945.5,742.6H953.5M732.0,825.2H740.0M945.5,825.2H953.5M732.0,907.8H740.0M945.5,907.8H953.5M732.0,990.4H740.0M945.5,990.4H953.5M732.0,1073.0H740.0M945.5,1073.0H953.5M732.0,1155.6H740.0M945.5,1155.6H953.5M740.0,701.3V687.3M740.0,1180.4V1194.4M774.2,701.3V693.3M774.2,1180.4V1188.4M808.5,701.3V687.3M808.5,1180.4V1194.4M842.8,701.3V693.3M842.8,1180.4V1188.4M877.0,701.3V687.3M877.0,1180.4V1194.4M911.2,701.3V693.3M911.2,1180.4V1188.4M945.5,701.3V687.3M945.5,1180.4V1194.4M1025.5,701.3H1230.5V1180.4H1025.5ZM1011.5,701.3H1025.5M1230.5,701.3H1244.5M1017.5,742.6H1025.5M1230.5,742.6H1238.5M1230.5,783.9H1244.5M1017.5,825.2H1025.5M1230.5,825.2H1238.5M1230.5,866.5H1244.5M1017.5,907.8H1025.5M1230.5,907.8H1238.5M1230.5,949.1H1244.5M1017.5,990.4H1025.5M1230.5,990.4H1238.5M1230.5,1031.7H1244.5M1017.5,1073.0H1025.5M1230.5,1073.0H1238.5M1230.5,1114.3H1244.5M1017.5,1155.6H1025.5M1230.5,1155.6H1238.5M1025.5,701.3V687.3M1025.5,1180.4V1194.4M1059.7,701.3V693.3M1059.7,1180.4V1188.4M1093.8,701.3V687.3M1093.8,1180.4V1194.4M1128.0,701.3V693.3M1128.0,1180.4V1188.4M1162.2,701.3V687.3M1162.2,1180.4V1194.4M1196.3,701.3V693.3M1196.3,1180.4V1188.4M1230.5,701.3V687.3M1230.5,1180.4V1194.4M407.5,783.9H424.0M434.0,783.9h4M447.0,783.9h4M459.5,783.9h4M472.8,783.9H487.3M407.5,866.5H424.0M434.0,866.5h4M447.0,866.5h4M459.5,866.5h4M472.8,866.5H487.3M407.5,949.1H424.0M434.0,949.1h4M447.0,949.1h4M459.5,949.1h4M472.8,949.1H487.3M407.5,1031.7H424.0M434.0,1031.7h4M447.0,1031.7h4M459.5,1031.7h4M472.8,1031.7H487.3M407.5,1114.3H424.0M434.0,1114.3h4M447.0,1114.3h4M459.5,1114.3h4M472.8,1114.3H487.3M659.2,783.9H675.7M685.7,783.9h4M698.7,783.9h4M711.2,783.9h4M725.5,783.9H740.0M659.2,866.5H675.7M685.7,866.5h4M698.7,866.5h4M711.2,866.5h4M725.5,866.5H740.0M659.2,949.1H675.7M685.7,949.1h4M698.7,949.1h4M711.2,949.1h4M725.5,949.1H740.0M659.2,1031.7H675.7M685.7,1031.7h4M698.7,1031.7h4M711.2,1031.7h4M725.5,1031.7H740.0M659.2,1114.3H675.7M685.7,1114.3h4M698.7,1114.3h4M711.2,1114.3h4M725.5,1114.3H740.0M945.5,783.9H962.0M972.0,783.9h4M985.0,783.9h4M997.5,783.9h4M1011.0,783.9H1025.5M945.5,866.5H962.0M972.0,866.5h4M985.0,866.5h4M997.5,866.5h4M1011.0,866.5H1025.5M945.5,949.1H962.0M972.0,949.1h4M985.0,949.1h4M997.5,949.1h4M1011.0,949.1H1025.5M945.5,1031.7H962.0M972.0,1031.7h4M985.0,1031.7h4M997.5,1031.7h4M1011.0,1031.7H1025.5M945.5,1114.3H962.0M972.0,1114.3h4M985.0,1114.3h4M997.5,1114.3h4M1011.0,1114.3H1025.5" stroke="#000" stroke-width="2.2" fill="none"/>
<text x="177.3" y="281.5" font-size="33" text-anchor="end">700</text>
<text x="177.3" y="364.3" font-size="33" text-anchor="end">650</text>
<text x="177.3" y="447.0" font-size="33" text-anchor="end">600</text>
<text x="177.3" y="529.8" font-size="33" text-anchor="end">550</text>
<text x="177.3" y="612.5" font-size="33" text-anchor="end">500</text>
<text x="177.3" y="795.2" font-size="33" text-anchor="end">700</text>
<text x="177.3" y="877.8" font-size="33" text-anchor="end">650</text>
<text x="177.3" y="960.4" font-size="33" text-anchor="end">600</text>
<text x="177.3" y="1043.0" font-size="33" text-anchor="end">550</text>
<text x="177.3" y="1125.6" font-size="33" text-anchor="end">500</text>
<text x="202.0" y="1231.3" font-size="33" text-anchor="middle">0</text>
<text x="270.5" y="1231.3" font-size="33" text-anchor="middle">10</text>
<text x="339.0" y="1231.3" font-size="33" text-anchor="middle">20</text>
<text x="407.5" y="1231.3" font-size="33" text-anchor="middle">30</text>
<text x="487.3" y="1231.3" font-size="33" text-anchor="middle">0</text>
<text x="556.1" y="1231.3" font-size="33" text-anchor="middle">10</text>
<text x="624.8" y="1231.3" font-size="33" text-anchor="middle">20</text>
<text x="740.0" y="1231.3" font-size="33" text-anchor="middle">0</text>
<text x="808.5" y="1231.3" font-size="33" text-anchor="middle">10</text>
<text x="877.0" y="1231.3" font-size="33" text-anchor="middle">20</text>
<text x="945.5" y="1231.3" font-size="33" text-anchor="middle">30</text>
<text x="1025.5" y="1231.3" font-size="33" text-anchor="middle">0</text>
<text x="1093.8" y="1231.3" font-size="33" text-anchor="middle">10</text>
<text x="1162.2" y="1231.3" font-size="33" text-anchor="middle">20</text>
<text x="1230.5" y="1231.3" font-size="33" text-anchor="middle">30</text>
<rect x="163.1" y="43.1" width="257" height="43" fill="url(#cbPL)"/>
<rect x="716.6" y="40.6" width="276.4" height="46.2" fill="url(#cbT)"/>
<text x="164.1" y="29" font-size="32.5">PL intensity (a.u.)</text>
<text x="164.8" y="76" font-size="31.5" fill="#fff">min</text>
<text x="416.5" y="75.9" font-size="31.5" fill="#fff" text-anchor="end">max</text>
<text x="725.1" y="27.5" font-size="32">Transmission eff.</text>
<text x="724.6" y="75.1" font-size="33">0</text>
<text x="988.5" y="75.1" font-size="33" fill="#fff" text-anchor="end">1</text>
<text x="283.7" y="151.1" font-size="32">PL</text>
<text x="483.9" y="132.9" font-size="32">Transmission</text>
<text x="501.8" y="169.7" font-size="32">measured</text>
<text x="745.0" y="133.2" font-size="32">Transmission</text>
<text x="726.5" y="168.4" font-size="32">sim. PDS losses</text>
<text x="1032.6" y="133.2" font-size="32">Transmission</text>
<text x="1026.0" y="168.4" font-size="32">sim. no losses</text>
<text x="146.5" y="218.8" font-size="42" font-weight="bold">A</text>
<text x="441.5" y="217.8" font-size="42" font-weight="bold">B</text>
<text x="694" y="218.6" font-size="42" font-weight="bold">C</text>
<text x="976.5" y="217.8" font-size="42" font-weight="bold">D</text>
<text x="148" y="726.2" font-size="42" font-weight="bold">E</text>
<text x="444" y="726.2" font-size="42" font-weight="bold">F</text>
<text x="693.5" y="726.6" font-size="42" font-weight="bold">G</text>
<text x="976.5" y="726.2" font-size="42" font-weight="bold">H</text>
<text transform="translate(38.5,466.3) rotate(-90)" font-size="32" text-anchor="middle">TE</text>
<text transform="translate(38.5,965.2) rotate(-90)" font-size="32" text-anchor="middle">TM</text>
<text transform="translate(81.5,434.2) rotate(-90)" font-size="32" text-anchor="middle">Wavelength (nm)</text>
<text transform="translate(81.5,940.8) rotate(-90)" font-size="32" text-anchor="middle">Wavelength (nm)</text>
<text x="149.4" y="1274" font-size="32">Detection angle (°)</text>
<text x="678.9" y="1273.1" font-size="32">Angles of incidence (°)</text>
</svg>
</body></html>
